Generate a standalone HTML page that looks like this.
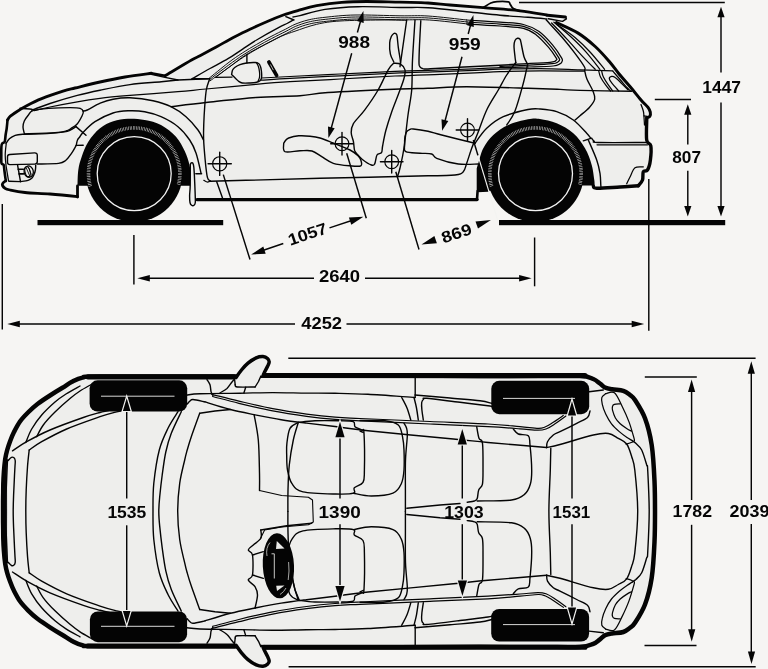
<!DOCTYPE html>
<html><head><meta charset="utf-8"><title>Dimensions</title>
<style>
html,body{margin:0;padding:0;background:#f6f5f3;}
body{width:768px;height:669px;overflow:hidden;}
svg{display:block;}
text{font-family:"Liberation Sans",sans-serif;font-weight:bold;fill:#040404;}
</style></head><body>
<svg width="768" height="669" viewBox="0 0 768 669">
<rect x="0" y="0" width="768" height="669" fill="#f6f5f3"/>
<g id="side">
<path d="M7.5,120.0 L10.0,116.5 L16.7,111.7 L26.7,105.8 L41.7,98.7 L63.0,91.2 L75.0,88.0 L100.0,82.0 L125.0,77.0 L151.3,73.3 L151.3,73.3 L165.0,75.8 L165.5,75.5 L192.0,59.8 L200.0,55.8 L216.7,46.7 L233.3,37.5 L250.0,29.2 L266.7,21.7 L283.3,15.0 L300.0,9.9 L316.7,5.7 L341.7,2.4 L366.7,1.5 L400.0,2.2 L428.0,3.0 L450.0,5.0 L483.3,7.7 L520.0,10.8 L546.7,15.0 L547.5,15.0 L565.0,16.9 L566.0,19.0 L560.0,22.5 L555.8,23.3 L578.1,33.1 L595.2,46.5 L609.3,61.5 L618.7,73.5 L630.4,87.0 L641.0,100.0 L648.0,107.4 L650.3,112.1 L649.8,116.4 L646.8,117.6 L646.7,140.0 L650.8,145.8 L650.4,160.0 L647.5,170.0 L643.3,171.7 L642.5,180.0 L638.3,185.8 L620.0,187.0 L596.7,188.3 L593.3,185.8 L560.0,190.0 L487.8,190.2 L477.8,190.8 L477.0,200.0 L197.0,200.0 L196.0,186.0 L80.0,186.0 L77.5,190.0 L77.5,196.7 L50.0,194.0 L25.0,192.5 L10.0,190.0 L5.0,188.3 L2.5,185.5 L2.8,183.3 L5.8,180.8 L4.6,172.0 L3.7,165.0 L1.5,163.3 L1.3,155.0 L1.7,144.5 L4.7,141.7 L5.6,135.0 L6.7,128.3 L7.5,120.0Z" fill="#eeeeec" stroke="none"/>
<path d="M77.5,185.8 C77.6,183.2 77.6,174.8 78.3,170.0 C79.0,165.2 80.0,161.4 81.7,156.7 C83.4,152.0 85.2,146.4 88.3,141.7 C91.3,137.0 95.8,131.7 100.0,128.3 C104.2,124.9 108.6,122.9 113.3,121.3 C118.0,119.7 122.8,119.0 128.0,118.8 C133.2,118.6 139.2,119.0 144.7,120.0 C150.2,121.0 155.8,122.2 161.0,125.0 C166.2,127.8 172.1,132.4 176.0,136.7 C179.9,141.0 182.4,146.3 184.7,151.0 C186.9,155.7 188.4,160.5 189.5,165.0 C190.6,169.5 190.7,174.5 191.0,178.0 C191.3,181.5 191.2,184.5 191.3,185.8 Z" fill="#040404"/>
<path d="M476.7,168.5 C477.0,167.6 477.2,166.7 478.3,163.3 C479.4,159.9 480.8,153.0 483.3,148.3 C485.8,143.6 489.1,138.9 493.3,135.0 C497.5,131.1 502.5,127.6 508.3,125.0 C514.1,122.4 522.7,120.3 528.0,119.3 C533.3,118.3 535.2,118.3 540.0,119.0 C544.8,119.7 551.2,120.9 556.7,123.3 C562.2,125.7 568.6,129.1 573.3,133.3 C578.0,137.5 581.9,143.0 585.0,148.3 C588.1,153.6 590.2,159.7 591.7,165.0 C593.2,170.3 593.8,176.6 594.3,180.0 C594.8,183.4 594.5,184.6 594.5,185.5 L560.0,185.5 L500.0,190.7 L476.7,190.7 Z" fill="#040404"/>
<path d="M190.3,164.5 C190.5,164.2 190.8,163.1 191.2,162.9 C191.6,162.7 192.4,162.5 192.8,163.2 C193.2,163.9 193.5,164.2 193.8,167.0 C194.1,169.8 194.4,175.3 194.6,180.0 C194.8,184.7 195.1,191.2 195.2,195.0 C195.3,198.8 195.5,200.8 195.3,202.5 C195.1,204.2 194.6,204.8 194.0,205.3 C193.4,205.8 192.3,205.8 191.6,205.3 C190.9,204.8 190.3,204.1 190.0,202.5 C189.7,200.9 189.6,198.8 189.6,196.0 C189.6,193.2 190.1,191.1 190.2,185.8 C190.3,180.6 190.3,168.1 190.3,164.5" fill="#eeeeec" stroke="#040404" stroke-width="1.4" stroke-linecap="round" stroke-linejoin="round" />
<circle cx="134.2" cy="173.6" r="48.3" fill="#040404"/>
<path d="M90.27,186.20 A45.7,45.7 0 1 1 178.54,184.66" fill="none" stroke="#d8d8d8" stroke-width="3.6" stroke-dasharray="0.55 1.05"/>
<circle cx="134.2" cy="173.6" r="37" fill="none" stroke="#f2f2f2" stroke-width="1.3"/>
<circle cx="535.5" cy="173.6" r="48.3" fill="#040404"/>
<path d="M491.57,186.20 A45.7,45.7 0 1 1 579.84,184.66" fill="none" stroke="#d8d8d8" stroke-width="3.6" stroke-dasharray="0.55 1.05"/>
<circle cx="535.5" cy="173.6" r="37" fill="none" stroke="#f2f2f2" stroke-width="1.3"/>
<rect x="37.5" y="220" width="185.7" height="5.2" fill="#040404"/>
<rect x="499" y="220" width="226.2" height="5.2" fill="#040404"/>
<path d="M7.5,120.0 C7.9,119.4 8.5,117.9 10.0,116.5 C11.5,115.1 13.9,113.5 16.7,111.7 C19.5,109.9 22.5,108.0 26.7,105.8 C30.9,103.6 35.7,101.1 41.7,98.7 C47.8,96.3 57.5,93.0 63.0,91.2 C68.5,89.4 68.8,89.5 75.0,88.0 C81.2,86.5 91.7,83.8 100.0,82.0 C108.3,80.2 116.5,78.5 125.0,77.0 C133.6,75.5 146.9,73.9 151.3,73.3" fill="none" stroke="#040404" stroke-width="2.9" stroke-linecap="round" stroke-linejoin="round" />
<path d="M151.3,73.3 L165.0,75.8" fill="none" stroke="#040404" stroke-width="2.6" stroke-linecap="round" stroke-linejoin="round" />
<path d="M165.5,75.5 C169.9,72.9 186.2,63.1 192.0,59.8 C197.8,56.5 195.9,58.0 200.0,55.8 C204.1,53.6 211.1,49.8 216.7,46.7 C222.2,43.7 227.8,40.4 233.3,37.5 C238.9,34.6 244.4,31.8 250.0,29.2 C255.6,26.6 261.1,24.1 266.7,21.7 C272.2,19.3 277.8,17.0 283.3,15.0 C288.9,13.0 294.4,11.5 300.0,9.9 C305.6,8.3 309.8,7.0 316.7,5.7 C323.6,4.5 333.4,3.1 341.7,2.4 C350.0,1.7 357.0,1.5 366.7,1.5 C376.4,1.5 389.8,2.0 400.0,2.2 C410.2,2.5 419.7,2.5 428.0,3.0 C436.3,3.5 440.8,4.2 450.0,5.0 C459.2,5.8 471.6,6.7 483.3,7.7 C495.0,8.7 509.4,9.6 520.0,10.8 C530.6,12.0 542.2,14.3 546.7,15.0" fill="none" stroke="#040404" stroke-width="2.8" stroke-linecap="round" stroke-linejoin="round" />
<path d="M547.5,15.3 L565.4,16.9" fill="none" stroke="#040404" stroke-width="3.0" stroke-linecap="round" stroke-linejoin="round" />
<path d="M565.4,16.9 L566.4,18.8 L562.5,21.4 L548.4,18.8" fill="none" stroke="#040404" stroke-width="1.4" stroke-linecap="round" stroke-linejoin="round" />
<path d="M556.5,22.6 C560.1,24.4 571.6,29.1 578.1,33.1 C584.6,37.1 590.0,41.8 595.2,46.5 C600.4,51.2 605.4,57.0 609.3,61.5 C613.2,66.0 615.2,69.2 618.7,73.5 C622.2,77.8 626.7,82.6 630.4,87.0 C634.1,91.4 638.1,96.6 641.0,100.0 C643.9,103.4 646.5,105.4 648.0,107.4 C649.5,109.4 650.0,110.6 650.3,112.1 C650.6,113.6 650.4,115.5 649.8,116.4 C649.2,117.3 647.3,117.4 646.8,117.6" fill="none" stroke="#040404" stroke-width="3.0" stroke-linecap="round" stroke-linejoin="round" />
<path d="M646.8,117.6 C646.8,121.3 646.0,135.3 646.7,140.0 C647.4,144.7 650.2,142.5 650.8,145.8 C651.4,149.1 650.9,156.0 650.4,160.0 C649.9,164.0 648.7,168.1 647.5,170.0 C646.3,171.9 644.1,170.0 643.3,171.7 C642.5,173.4 643.3,177.7 642.5,180.0 C641.7,182.3 639.0,184.8 638.3,185.8" fill="none" stroke="#040404" stroke-width="3.4" stroke-linecap="round" stroke-linejoin="round" />
<path d="M638.3,185.8 C635.2,186.0 626.9,186.6 620.0,187.0 C613.1,187.4 601.2,188.5 596.7,188.3 C592.2,188.1 593.9,186.2 593.3,185.8" fill="none" stroke="#040404" stroke-width="3.4" stroke-linecap="round" stroke-linejoin="round" />
<path d="M77.5,196.7 C72.9,196.2 58.8,194.7 50.0,194.0 C41.2,193.3 31.7,193.2 25.0,192.5 C18.3,191.8 13.3,190.7 10.0,190.0 C6.7,189.3 6.2,189.1 5.0,188.3 C3.8,187.6 2.9,186.3 2.5,185.5 C2.1,184.7 2.2,184.1 2.8,183.3 C3.3,182.5 5.3,181.2 5.8,180.8" fill="none" stroke="#040404" stroke-width="2.8" stroke-linecap="round" stroke-linejoin="round" />
<path d="M5.8,180.8 C5.6,179.3 4.9,174.6 4.6,172.0 C4.2,169.4 4.2,166.4 3.7,165.0 C3.2,163.6 1.9,165.0 1.5,163.3 C1.1,161.6 1.3,158.1 1.3,155.0 C1.3,151.9 1.1,146.7 1.7,144.5 C2.3,142.3 4.1,143.3 4.7,141.7 C5.3,140.1 5.3,137.2 5.6,135.0 C5.9,132.8 6.4,130.8 6.7,128.3 C7.0,125.8 7.4,121.4 7.5,120.0" fill="none" stroke="#040404" stroke-width="2.6" stroke-linecap="round" stroke-linejoin="round" />
<path d="M77.5,197.0 L77.5,186.0" fill="none" stroke="#040404" stroke-width="2.8" stroke-linecap="round" stroke-linejoin="round" />
<path d="M197.0,199.6 L477.0,199.6" fill="none" stroke="#040404" stroke-width="3.3" stroke-linecap="round" stroke-linejoin="round" />
<path d="M477.0,199.6 L477.6,191.0 L488.0,190.4" fill="none" stroke="#040404" stroke-width="2.6" stroke-linecap="round" stroke-linejoin="round" />
<path d="M483.3,7.5 C484.6,6.8 488.5,4.0 490.8,3.0 C493.1,2.0 494.1,1.8 497.0,1.6 C499.9,1.4 506.1,1.4 508.3,1.8 C510.5,2.2 509.2,2.9 510.0,4.0 C510.8,5.1 511.6,7.5 513.3,8.6 C515.0,9.7 518.9,10.4 520.0,10.8" fill="none" stroke="#040404" stroke-width="1.8" stroke-linecap="round" stroke-linejoin="round" />
<path d="M20.0,108.3 C21.9,108.5 29.4,109.0 31.5,109.2 C33.6,109.4 29.8,110.7 32.9,109.7 C36.0,108.8 42.6,105.9 50.0,103.5 C57.4,101.1 69.0,97.6 77.3,95.4 C85.6,93.2 91.2,92.0 100.0,90.2 C108.8,88.4 119.8,86.0 130.0,84.6 C140.2,83.2 153.3,82.5 161.3,81.7 C169.3,80.9 175.2,80.3 178.0,80.0" fill="none" stroke="#040404" stroke-width="1.4" stroke-linecap="round" stroke-linejoin="round" />
<path d="M151.3,74.3 L165.0,77.4 L178.0,80.0 L208.0,78.7" fill="none" stroke="#040404" stroke-width="1.4" stroke-linecap="round" stroke-linejoin="round" />
<path d="M34.3,110.7 C36.9,110.1 42.8,108.5 50.0,107.0 C57.2,105.5 69.0,103.2 77.3,101.8 C85.6,100.3 91.2,99.4 100.0,98.3 C108.8,97.2 117.0,96.5 130.0,95.4 C143.0,94.3 165.3,92.8 178.0,91.7 C190.7,90.6 193.0,90.2 206.0,89.0 C219.0,87.8 242.0,85.5 256.0,84.3 C270.0,83.1 276.0,82.6 290.0,81.7 C304.0,80.8 322.5,80.0 340.0,79.0 C357.5,78.0 378.3,76.8 395.0,76.0 C411.7,75.2 426.7,74.8 440.0,74.3 C453.3,73.8 465.0,73.4 475.0,72.9 C485.0,72.5 489.2,71.9 500.0,71.6 C510.8,71.2 525.9,70.9 540.0,70.8 C554.1,70.7 577.0,71.1 584.4,71.2" fill="none" stroke="#040404" stroke-width="1.25" stroke-linecap="round" stroke-linejoin="round" />
<path d="M171.0,106.7 C176.8,106.0 191.8,104.0 206.0,102.5 C220.2,101.0 240.3,98.6 256.0,97.5 C271.7,96.4 288.0,96.6 300.0,95.8 C312.0,95.0 311.3,93.6 328.0,92.5 C344.7,91.4 383.3,89.7 400.0,89.0 C416.7,88.3 416.9,88.7 428.0,88.3 C439.1,87.9 450.0,86.7 466.7,86.7 C483.4,86.7 512.5,87.8 528.0,88.3 C543.5,88.8 551.3,89.1 560.0,89.4 C568.7,89.8 568.1,90.1 580.0,90.4 C591.9,90.7 623.0,91.2 631.6,91.3" fill="none" stroke="#040404" stroke-width="1.4" stroke-linecap="round" stroke-linejoin="round" />
<path d="M83.0,111.0 C83.7,110.8 84.4,111.3 87.3,110.0 C90.2,108.7 95.9,105.0 100.2,103.2 C104.5,101.4 108.1,100.1 113.1,99.2 C118.1,98.3 123.3,97.5 130.0,97.8 C136.7,98.1 146.2,99.3 153.0,100.8 C159.8,102.3 165.5,104.0 171.0,106.7 C176.5,109.4 181.5,112.8 186.0,116.7 C190.5,120.6 195.1,126.1 198.0,130.0 C200.9,133.9 202.6,138.3 203.5,140.0" fill="none" stroke="#040404" stroke-width="1.4" stroke-linecap="round" stroke-linejoin="round" />
<path d="M76.2,145.4 C76.4,144.5 76.9,141.4 77.5,140.0 C78.1,138.6 78.8,138.2 79.7,137.0 C80.6,135.8 80.5,135.1 83.0,132.5 C85.5,129.9 90.0,125.0 95.0,121.7 C100.0,118.5 107.5,114.8 113.0,113.0 C118.5,111.2 122.7,111.0 128.0,110.8 C133.3,110.6 139.2,110.7 144.7,111.7 C150.2,112.7 155.4,114.2 161.0,116.7 C166.6,119.2 173.2,122.8 178.0,126.7 C182.8,130.6 186.7,135.6 189.7,140.0 C192.7,144.4 194.1,147.5 196.0,153.0 C197.9,158.5 200.2,169.7 201.0,173.0" fill="none" stroke="#040404" stroke-width="1.4" stroke-linecap="round" stroke-linejoin="round" />
<path d="M76.2,145.4 L83.2,145.2" fill="none" stroke="#040404" stroke-width="1.4" stroke-linecap="round" stroke-linejoin="round" />
<path d="M195.8,173.8 L201.6,173.8" fill="none" stroke="#040404" stroke-width="1.4" stroke-linecap="round" stroke-linejoin="round" />
<path d="M24.4,133.9 C24.2,132.8 23.0,129.2 23.0,127.0 C23.0,124.8 23.4,123.0 24.3,121.0 C25.2,119.0 27.2,116.4 28.6,114.7 C30.0,113.0 29.5,111.8 32.9,110.7 C36.2,109.7 42.5,108.9 48.7,108.4 C54.9,107.9 64.8,107.6 70.1,107.6 C75.3,107.6 78.0,107.6 80.2,108.3 C82.4,109.0 83.0,110.2 83.3,111.5 C83.6,112.8 83.0,114.0 82.0,116.0 C81.0,118.0 79.2,121.6 77.4,123.7 C75.6,125.8 72.9,127.3 71.0,128.5 C69.1,129.7 68.7,130.3 66.0,131.0 C63.3,131.7 61.9,132.1 55.0,132.6 C48.1,133.1 29.5,133.7 24.4,133.9" fill="none" stroke="#040404" stroke-width="1.4" stroke-linecap="round" stroke-linejoin="round" />
<path d="M76.0,126.6 L86.0,135.2" fill="none" stroke="#040404" stroke-width="1.4" stroke-linecap="round" stroke-linejoin="round" />
<path d="M5.9,143.5 C6.5,142.7 7.9,140.2 9.4,138.8 C10.9,137.4 12.9,136.1 15.2,135.3 C17.5,134.5 18.1,134.5 23.4,134.2 C28.7,133.9 40.0,134.0 46.9,133.6 C53.8,133.2 60.6,132.5 64.5,131.9 C68.4,131.3 68.4,130.9 70.3,130.0 C72.2,129.1 75.0,127.2 76.0,126.6" fill="none" stroke="#040404" stroke-width="1.4" stroke-linecap="round" stroke-linejoin="round" />
<path d="M76.2,145.4 C75.4,146.7 73.3,150.9 71.5,153.4 C69.7,155.9 67.8,158.8 65.6,160.5 C63.4,162.2 63.3,162.8 58.6,163.4 C53.9,164.0 40.8,163.9 37.3,164.0" fill="none" stroke="#040404" stroke-width="1.4" stroke-linecap="round" stroke-linejoin="round" />
<path d="M9.8,154.5 L34.6,152.9 Q37.3,152.8 37.3,155.4 L37.3,161.6 Q37.3,164 34.8,164.1 L9.8,164.6 Q7.5,164.6 7.5,162.3 L7.5,156.8 Q7.5,154.6 9.8,154.5 Z" fill="none" stroke="#040404" stroke-width="1.4" stroke-linecap="round" stroke-linejoin="round" />
<path d="M17.6,165.2 C17.8,166.5 18.5,170.3 19.0,173.0 C19.5,175.7 20.2,180.2 20.5,181.6" fill="none" stroke="#040404" stroke-width="1.4" stroke-linecap="round" stroke-linejoin="round" />
<path d="M20.5,181.6 C21.8,181.4 26.2,181.0 28.1,180.4 C30.0,179.8 31.0,179.0 32.0,178.0 C33.0,177.0 33.4,175.8 34.0,174.5 C34.6,173.2 35.1,171.6 35.4,170.0 C35.7,168.4 35.7,166.0 35.7,165.2" fill="none" stroke="#040404" stroke-width="1.4" stroke-linecap="round" stroke-linejoin="round" />
<path d="M8.8,181.2 L20.5,181.6" fill="none" stroke="#040404" stroke-width="1.4" stroke-linecap="round" stroke-linejoin="round" />
<ellipse cx="28.7" cy="171.6" rx="4.6" ry="5.7" fill="none" stroke="#040404" stroke-width="1.3" transform="rotate(-12 28.7 171.6)"/>
<ellipse cx="27.6" cy="171.7" rx="2.5" ry="5" fill="none" stroke="#040404" stroke-width="1.0" transform="rotate(-14 27.6 171.7)"/>
<path d="M26.4,168.2 L29.6,175.6" fill="none" stroke="#040404" stroke-width="0.9" stroke-linecap="round" stroke-linejoin="round" />
<path d="M28.4,167.2 L31.3,174.3" fill="none" stroke="#040404" stroke-width="0.9" stroke-linecap="round" stroke-linejoin="round" />
<path d="M18.2,169.3 L23.4,169.3" fill="none" stroke="#040404" stroke-width="1.6" stroke-linecap="round" stroke-linejoin="round" />
<path d="M19.0,173.9 L23.6,173.9" fill="none" stroke="#040404" stroke-width="1.6" stroke-linecap="round" stroke-linejoin="round" />
<path d="M6.2,144.0 C6.0,145.8 5.2,151.5 5.2,155.0 C5.2,158.5 5.5,160.8 6.0,165.0 C6.5,169.2 8.1,177.9 8.5,180.5" fill="none" stroke="#040404" stroke-width="1.25" stroke-linecap="round" stroke-linejoin="round" />
<path d="M192.2,78.7 C195.2,77.0 204.0,71.8 210.0,68.5 C216.0,65.2 222.6,61.9 228.0,58.7 C233.4,55.5 237.5,52.4 242.3,49.3 C247.1,46.2 250.6,43.6 256.6,40.0 C262.6,36.4 273.0,30.6 278.1,27.9 C283.2,25.1 284.5,24.8 287.0,23.5 C289.5,22.2 292.0,20.8 293.0,20.2" fill="none" stroke="#040404" stroke-width="1.4" stroke-linecap="round" stroke-linejoin="round" />
<path d="M285.8,16.7 L294.0,20.0" fill="none" stroke="#040404" stroke-width="1.4" stroke-linecap="round" stroke-linejoin="round" />
<path d="M293.0,17.0 C294.2,16.8 294.7,16.9 300.0,15.6 C305.3,14.3 315.3,10.9 325.0,9.4 C334.7,7.9 345.5,7.0 358.0,6.7 C370.5,6.4 388.3,7.3 400.0,7.5 C411.7,7.7 416.9,7.0 428.0,7.7 C439.1,8.4 454.7,10.4 466.7,11.7 C478.7,12.9 489.8,14.3 500.0,15.2 C510.2,16.1 520.2,16.7 528.0,17.3 C535.8,17.9 543.8,18.7 546.9,19.0" fill="none" stroke="#040404" stroke-width="1.4" stroke-linecap="round" stroke-linejoin="round" />
<path d="M208.6,78.7 C211.8,76.1 222.4,67.3 228.0,63.0 C233.6,58.7 237.5,56.1 242.3,53.0 C247.1,49.9 251.8,47.1 256.6,44.4 C261.4,41.6 266.2,39.0 271.0,36.5 C275.8,34.0 281.3,31.3 285.3,29.3 C289.3,27.3 291.2,25.9 295.0,24.3 C298.8,22.8 303.0,21.2 308.0,20.0 C313.0,18.8 317.2,18.1 325.0,17.3 C332.8,16.5 342.5,15.2 355.0,15.0 C367.5,14.8 387.8,15.6 400.0,15.8 C412.2,16.0 416.9,15.3 428.0,16.0 C439.1,16.7 460.2,19.3 466.7,20.0" fill="none" stroke="#040404" stroke-width="0.95" stroke-linecap="round" stroke-linejoin="round" />
<path d="M209.3,79.8 C212.5,77.3 223.1,69.1 228.7,65.0 C234.3,60.9 238.2,58.1 243.0,55.0 C247.8,51.9 252.5,49.1 257.3,46.4 C262.1,43.6 266.9,41.0 271.7,38.5 C276.5,36.0 282.0,33.3 286.0,31.3 C290.0,29.3 291.9,27.9 295.7,26.3 C299.5,24.8 303.7,23.2 308.7,22.0 C313.7,20.8 317.9,20.1 325.7,19.3 C333.5,18.5 343.2,17.2 355.7,17.0 C368.2,16.8 388.5,17.6 400.7,17.8 C412.9,18.0 417.6,17.3 428.7,18.0 C439.8,18.7 460.9,21.3 467.4,22.0" fill="none" stroke="#040404" stroke-width="0.95" stroke-linecap="round" stroke-linejoin="round" />
<path d="M210.0,80.9 C213.2,78.6 223.8,71.0 229.4,67.0 C235.0,63.0 238.9,60.1 243.7,57.0 C248.5,53.9 253.2,51.1 258.0,48.4 C262.8,45.6 267.6,43.0 272.4,40.5 C277.2,38.0 282.7,35.3 286.7,33.3 C290.7,31.3 292.6,29.9 296.4,28.3 C300.2,26.8 304.4,25.2 309.4,24.0 C314.4,22.8 318.6,22.1 326.4,21.3 C334.2,20.5 343.9,19.2 356.4,19.0 C368.9,18.8 389.2,19.6 401.4,19.8 C413.6,20.0 418.3,19.3 429.4,20.0 C440.5,20.7 461.6,23.3 468.1,24.0" fill="none" stroke="#040404" stroke-width="0.95" stroke-linecap="round" stroke-linejoin="round" />
<path d="M215.8,77.3 C218.2,75.5 224.9,70.3 230.0,66.5 C235.1,62.7 239.8,58.6 246.6,54.4 C253.4,50.2 264.9,44.6 271.0,41.5 C277.1,38.4 279.0,37.2 283.0,35.5 C287.0,33.8 289.4,33.1 295.0,31.2 C300.6,29.3 309.2,26.0 316.7,24.3 C324.2,22.6 329.4,21.7 340.0,21.0 C350.6,20.3 369.0,20.1 380.0,20.0 C391.0,19.9 401.7,20.2 406.0,20.3" fill="none" stroke="#040404" stroke-width="0.95" stroke-linecap="round" stroke-linejoin="round" />
<path d="M192.0,78.7 L209.7,78.7" fill="none" stroke="#040404" stroke-width="1.4" stroke-linecap="round" stroke-linejoin="round" />
<path d="M209.7,78.7 C209.1,80.6 207.1,85.3 206.3,90.0 C205.5,94.7 205.1,101.2 204.7,106.7 C204.3,112.2 204.0,118.0 203.8,123.3 C203.6,128.6 203.4,132.5 203.6,138.7 C203.8,144.8 204.6,153.8 205.2,160.2 C205.8,166.6 206.6,173.9 207.4,177.4 C208.2,180.9 209.8,180.4 210.3,181.0" fill="none" stroke="#040404" stroke-width="1.4" stroke-linecap="round" stroke-linejoin="round" />
<path d="M210.3,181.2 C216.2,181.0 227.7,180.8 246.0,180.3 C264.3,179.8 289.7,179.1 320.0,178.3 C350.3,177.6 405.5,176.4 428.0,175.8 C450.5,175.2 449.1,175.7 455.0,175.0 C460.9,174.3 461.4,173.6 463.3,171.7 C465.2,169.8 465.3,167.2 466.7,163.3 C468.1,159.4 469.8,153.6 471.7,148.3 C473.6,143.0 475.8,138.1 478.3,131.7 C480.8,125.3 483.4,117.0 486.7,110.0 C490.0,103.0 495.0,95.8 498.3,90.0 C501.6,84.2 503.8,79.6 506.7,75.0 C509.6,70.4 514.3,64.6 515.8,62.5" fill="none" stroke="#040404" stroke-width="1.4" stroke-linecap="round" stroke-linejoin="round" />
<path d="M203.8,180.3 C204.3,180.6 205.9,181.8 207.0,182.0 C208.1,182.2 209.8,181.3 210.3,181.2" fill="none" stroke="#040404" stroke-width="1.25" stroke-linecap="round" stroke-linejoin="round" />
<path d="M215.8,77.4 L232.0,77.1" fill="none" stroke="#040404" stroke-width="1.4" stroke-linecap="round" stroke-linejoin="round" />
<path d="M261.6,78.0 C266.3,77.8 276.9,77.2 290.0,76.5 C303.1,75.8 322.5,74.8 340.0,74.0 C357.5,73.2 378.3,72.1 395.0,71.4 C411.7,70.7 426.7,70.4 440.0,70.0 C453.3,69.6 465.0,69.2 475.0,68.8 C485.0,68.3 491.2,67.9 500.0,67.6 C508.8,67.3 523.3,67.1 528.0,67.0" fill="none" stroke="#040404" stroke-width="1.25" stroke-linecap="round" stroke-linejoin="round" />
<path d="M261.6,80.2 C266.3,79.9 276.9,79.0 290.0,78.3 C303.1,77.6 322.5,76.7 340.0,75.8 C357.5,74.9 378.3,73.8 395.0,73.1 C411.7,72.4 426.7,72.1 440.0,71.6 C453.3,71.1 465.0,70.7 475.0,70.3 C485.0,69.9 489.2,69.5 500.0,69.2 C510.8,68.9 526.7,68.5 540.0,68.6 C553.3,68.7 567.9,69.5 580.0,69.9 C592.1,70.3 607.3,70.7 612.8,70.9" fill="none" stroke="#040404" stroke-width="1.25" stroke-linecap="round" stroke-linejoin="round" />
<path d="M231.6,74.4 C231.8,73.7 232.0,71.2 232.6,70.0 C233.2,68.8 233.9,68.2 235.1,67.3 C236.3,66.4 238.1,65.3 240.0,64.6 C241.9,63.9 244.1,63.4 246.6,63.0 C249.1,62.6 253.2,62.4 255.2,62.5 C257.2,62.6 257.8,63.0 258.6,63.5 C259.4,64.0 259.7,64.5 260.2,65.8 C260.7,67.0 261.2,69.1 261.4,71.0 C261.6,72.9 261.8,75.7 261.6,77.3 C261.4,78.9 260.8,79.9 260.0,80.7 C259.2,81.5 258.3,81.9 256.6,82.3 C254.9,82.7 252.4,82.9 250.0,83.0 C247.6,83.1 244.2,83.3 242.3,83.0 C240.4,82.7 239.6,81.9 238.5,81.2 C237.4,80.5 237.1,79.8 235.9,78.7 C234.8,77.6 232.3,75.1 231.6,74.4" fill="#eeeeec" stroke="#040404" stroke-width="1.4" stroke-linecap="round" stroke-linejoin="round" />
<path d="M256.6,63.0 C256.9,63.6 257.9,65.0 258.4,66.5 C258.9,68.0 259.3,70.2 259.5,72.0 C259.7,73.8 259.8,75.8 259.5,77.3 C259.2,78.8 258.2,80.6 258.0,81.3" fill="none" stroke="#040404" stroke-width="1.25" stroke-linecap="round" stroke-linejoin="round" />
<path d="M246.9,54.4 L246.9,63.0" fill="none" stroke="#040404" stroke-width="1.4" stroke-linecap="round" stroke-linejoin="round" />
<path d="M268.9,62 L276.6,75.4" fill="none" stroke="#040404" stroke-width="3.7" stroke-linecap="round"/>
<path d="M270.6,64.8 L273.2,69.8" fill="none" stroke="#eeeeec" stroke-width="0.7" stroke-linecap="round"/>
<path d="M406.7,20.0 L400.0,66.7" fill="none" stroke="#040404" stroke-width="1.4" stroke-linecap="round" stroke-linejoin="round" />
<path d="M415.0,20.0 C414.6,26.7 413.1,48.3 412.5,60.0 C411.9,71.7 412.4,80.8 411.7,90.0 C410.9,99.2 409.3,105.3 408.0,115.0 C406.7,124.7 405.3,139.2 404.0,148.0 C402.7,156.8 401.1,163.2 400.0,168.0 C398.9,172.8 397.9,175.2 397.5,176.7" fill="none" stroke="#040404" stroke-width="1.4" stroke-linecap="round" stroke-linejoin="round" />
<path d="M420.8,20.8 C420.6,24.8 419.8,38.1 419.5,45.0 C419.2,51.9 419.0,58.6 419.0,62.0 C419.0,65.4 419.1,64.6 419.3,65.5 C419.6,66.4 419.9,67.0 420.5,67.5 C421.1,68.0 422.0,68.3 423.0,68.6 C424.0,68.8 423.5,69.1 426.3,69.0 C429.1,68.9 431.9,68.6 440.0,68.2 C448.1,67.8 465.0,67.0 475.0,66.5 C485.0,66.0 491.2,65.7 500.0,65.2 C508.8,64.7 523.3,63.9 528.0,63.6" fill="none" stroke="#040404" stroke-width="1.4" stroke-linecap="round" stroke-linejoin="round" />
<path d="M466.7,20.0 C472.2,20.4 490.6,21.4 500.0,22.2 C509.4,22.9 516.9,22.9 523.4,24.5 C529.9,26.1 534.1,28.1 539.1,31.6 C544.1,35.1 549.3,41.2 553.1,45.6 C556.9,50.0 560.2,55.5 561.7,58.1 C563.2,60.8 562.2,60.6 562.0,61.5 C561.8,62.4 561.7,62.9 560.2,63.6 C558.7,64.3 558.5,65.4 553.1,66.0 C547.7,66.6 532.2,66.8 528.0,67.0" fill="none" stroke="#040404" stroke-width="1.25" stroke-linecap="round" stroke-linejoin="round" />
<path d="M466.7,22.0 C472.2,22.4 490.6,23.4 500.0,24.1 C509.4,24.8 517.1,24.9 523.4,26.4 C529.6,27.9 532.9,29.8 537.5,33.1 C542.1,36.4 547.2,42.2 550.8,46.4 C554.4,50.6 557.6,55.8 559.0,58.1 C560.4,60.5 559.5,59.9 559.3,60.5 C559.1,61.1 559.0,61.5 557.8,62.0 C556.6,62.5 557.3,63.1 552.3,63.6 C547.3,64.1 536.7,64.7 528.0,65.2 C519.3,65.7 504.7,66.2 500.0,66.4" fill="none" stroke="#040404" stroke-width="1.25" stroke-linecap="round" stroke-linejoin="round" />
<path d="M466.7,24.0 C472.2,24.3 490.6,25.3 500.0,26.0 C509.4,26.7 517.4,26.9 523.4,28.4 C529.4,29.8 531.8,31.6 536.0,34.7 C540.2,37.8 545.0,43.3 548.4,47.2 C551.8,51.1 555.0,56.0 556.3,58.1 C557.6,60.2 556.6,59.5 556.3,60.0 C556.0,60.5 555.8,60.9 554.7,61.3 C553.7,61.7 554.5,61.9 550.0,62.3 C545.5,62.7 531.7,63.4 528.0,63.6" fill="none" stroke="#040404" stroke-width="1.25" stroke-linecap="round" stroke-linejoin="round" />
<path d="M393.8,62.0 C393.2,60.7 391.1,57.3 390.4,54.1 C389.7,50.9 389.5,45.8 389.7,42.9 C389.9,40.0 390.6,38.1 391.3,36.5 C392.0,34.9 393.0,34.0 393.8,33.5 C394.6,33.0 395.4,33.3 396.0,33.8 C396.6,34.2 396.7,33.9 397.1,36.2 C397.5,38.5 397.8,43.7 398.3,47.4 C398.8,51.1 399.7,56.0 400.1,58.6 C400.5,61.2 400.4,62.4 400.5,63.1" fill="none" stroke="#040404" stroke-width="1.4" stroke-linecap="round" stroke-linejoin="round" />
<path d="M393.8,63.1 C392.9,64.2 390.8,65.3 388.2,69.8 C385.6,74.3 382.0,83.3 378.1,90.0 C374.2,96.7 368.7,104.6 364.6,110.2 C360.5,115.8 355.6,119.9 353.4,123.6 C351.2,127.3 351.2,129.6 351.2,132.6 C351.2,135.6 352.8,138.5 353.4,141.5 C354.0,144.5 353.9,148.2 354.6,150.5 C355.4,152.8 356.6,153.5 357.9,155.0 C359.2,156.5 360.1,157.8 362.4,159.5 C364.6,161.2 369.3,164.3 371.4,165.0 C373.4,165.7 373.8,165.6 374.7,163.9 C375.6,162.2 375.9,156.9 377.0,155.0 C378.1,153.1 380.6,154.2 381.5,152.7 C382.4,151.2 381.9,149.7 382.6,146.0 C383.3,142.3 384.4,135.9 385.9,130.3 C387.4,124.7 389.4,118.4 391.5,112.4 C393.6,106.4 396.2,100.1 398.3,94.5 C400.4,88.9 402.8,82.9 403.9,78.8 C405.0,74.7 405.6,72.2 405.0,69.8 C404.4,67.4 402.4,65.3 400.5,64.2 C398.6,63.1 394.9,63.3 393.8,63.1" fill="none" stroke="#040404" stroke-width="1.4" stroke-linecap="round" stroke-linejoin="round" />
<path d="M283.7,143.3 C284.0,142.8 284.7,141.4 285.5,140.5 C286.3,139.6 286.5,138.8 288.7,138.0 C290.9,137.2 295.1,136.1 298.7,135.8 C302.2,135.5 306.4,135.8 310.0,136.2 C313.6,136.6 316.2,136.9 320.0,138.0 C323.8,139.1 328.0,141.0 333.0,143.0 C338.0,145.0 345.8,147.9 350.0,150.0 C354.2,152.1 356.2,154.1 358.0,155.8 C359.8,157.5 360.3,158.3 360.8,160.0 C361.3,161.7 362.6,164.8 360.8,165.8 C359.0,166.8 354.6,166.2 350.0,165.8 C345.4,165.4 338.0,164.8 333.3,163.3 C328.6,161.8 325.2,158.8 321.7,156.7 C318.1,154.6 315.6,152.0 312.0,151.0 C308.4,150.0 304.5,150.7 300.0,150.8 C295.5,150.9 287.7,152.9 285.0,151.7 C282.3,150.4 283.9,144.7 283.7,143.3" fill="none" stroke="#040404" stroke-width="1.4" stroke-linecap="round" stroke-linejoin="round" />
<path d="M478.3,164.0 C475.0,164.0 465.2,164.9 458.3,164.0 C451.4,163.1 441.1,160.0 436.7,158.3 C432.3,156.6 434.5,154.8 431.7,154.0 C428.9,153.2 424.3,153.6 420.0,153.2 C415.7,152.8 408.4,153.1 405.8,151.7 C403.2,150.3 404.7,147.5 404.6,145.0 C404.5,142.5 404.6,138.9 405.0,136.7 C405.4,134.5 405.9,132.9 406.7,131.7 C407.5,130.5 408.9,129.8 410.0,129.3 C411.1,128.9 410.3,128.7 413.3,129.0 C416.3,129.3 423.3,130.3 428.0,131.3 C432.7,132.3 433.9,133.0 441.7,135.0 C449.5,137.0 469.4,141.9 475.0,143.3" fill="none" stroke="#040404" stroke-width="1.4" stroke-linecap="round" stroke-linejoin="round" />
<path d="M515.8,62.5 C515.7,61.5 515.3,59.5 515.0,56.7 C514.7,54.0 514.0,48.7 514.0,46.0 C514.0,43.3 514.4,41.8 515.0,40.5 C515.6,39.2 516.7,38.5 517.5,38.3 C518.3,38.1 519.5,38.7 520.0,39.3 C520.5,39.9 520.1,38.8 520.8,41.7 C521.5,44.6 522.9,53.0 524.0,56.7 C525.1,60.4 526.9,62.8 527.5,64.0" fill="none" stroke="#040404" stroke-width="1.4" stroke-linecap="round" stroke-linejoin="round" />
<path d="M527.5,65.0 C526.8,68.0 525.4,75.6 523.3,83.3 C521.2,91.0 517.8,104.0 515.0,111.0 C512.2,118.0 508.1,122.7 506.7,125.0" fill="none" stroke="#040404" stroke-width="1.4" stroke-linecap="round" stroke-linejoin="round" />
<path d="M475.0,143.3 C476.9,140.8 482.0,132.7 486.7,128.3 C491.4,123.9 496.4,119.8 503.3,116.7 C510.2,113.6 521.9,110.8 528.0,109.5 C534.1,108.2 535.2,108.6 540.0,109.0 C544.8,109.4 551.2,109.9 556.7,111.7 C562.2,113.5 568.3,116.4 573.3,120.0 C578.3,123.6 583.8,130.2 586.7,133.3 C589.6,136.4 590.1,137.5 590.8,138.3" fill="none" stroke="#040404" stroke-width="1.4" stroke-linecap="round" stroke-linejoin="round" />
<path d="M590.8,138.3 L583.3,140.8" fill="none" stroke="#040404" stroke-width="1.4" stroke-linecap="round" stroke-linejoin="round" />
<path d="M588.3,140.0 C589.7,143.3 594.8,154.4 596.7,160.0 C598.7,165.6 599.3,169.1 600.0,173.3 C600.7,177.5 600.6,182.6 600.8,185.0 C601.0,187.4 601.0,187.5 601.0,188.0" fill="none" stroke="#040404" stroke-width="1.4" stroke-linecap="round" stroke-linejoin="round" />
<path d="M546.1,19.8 C548.8,22.8 557.7,32.2 562.5,37.8 C567.3,43.4 571.3,48.5 575.0,53.4 C578.7,58.3 582.9,64.2 584.5,67.0 C586.1,69.8 584.3,68.5 584.7,70.5 C585.1,72.5 585.6,75.9 587.0,79.3 C588.4,82.7 591.6,87.7 592.9,91.0 C594.2,94.3 595.3,96.5 594.7,99.2 C594.1,101.9 591.9,104.7 589.4,107.4 C586.9,110.2 582.4,113.6 580.0,115.7 C577.6,117.8 575.8,119.3 575.0,120.0" fill="none" stroke="#040404" stroke-width="1.4" stroke-linecap="round" stroke-linejoin="round" />
<path d="M551.6,23.0 C554.2,25.7 562.0,33.8 567.2,39.4 C572.4,45.0 578.1,51.6 582.8,56.6 C587.5,61.6 593.1,67.2 595.2,69.3" fill="none" stroke="#040404" stroke-width="1.25" stroke-linecap="round" stroke-linejoin="round" />
<path d="M553.9,22.2 C556.6,24.5 565.0,31.3 570.3,36.3 C575.6,41.2 581.0,46.4 585.9,51.9 C590.8,57.4 597.6,66.4 599.9,69.3" fill="none" stroke="#040404" stroke-width="1.25" stroke-linecap="round" stroke-linejoin="round" />
<path d="M557.0,24.5 C560.0,26.7 569.4,32.8 575.0,37.5 C580.6,42.2 585.6,47.2 590.5,52.5 C595.4,57.8 602.2,66.5 604.6,69.3" fill="none" stroke="#040404" stroke-width="1.25" stroke-linecap="round" stroke-linejoin="round" />
<path d="M598.8,71.1 C599.1,72.1 599.3,74.7 600.5,77.0 C601.7,79.3 604.1,82.9 605.8,85.2 C607.5,87.5 609.7,90.0 610.5,91.0" fill="none" stroke="#040404" stroke-width="1.25" stroke-linecap="round" stroke-linejoin="round" />
<path d="M601.7,71.1 C602.0,72.1 602.3,74.8 603.4,77.0 C604.5,79.2 606.5,82.3 608.1,84.6 C609.7,86.9 612.0,89.9 612.8,91.0" fill="none" stroke="#040404" stroke-width="1.25" stroke-linecap="round" stroke-linejoin="round" />
<path d="M618.7,91.0 C617.5,89.6 613.3,84.8 611.7,82.8 C610.1,80.8 609.3,79.8 609.3,78.7 C609.3,77.6 610.7,76.6 611.7,76.4 C612.7,76.2 613.5,76.3 615.2,77.6 C617.0,78.9 620.1,82.0 622.2,84.0 C624.4,86.0 627.1,88.9 628.1,89.9" fill="none" stroke="#040404" stroke-width="1.25" stroke-linecap="round" stroke-linejoin="round" />
<path d="M612.8,71.1 C614.0,72.5 617.6,76.8 620.0,79.5 C622.4,82.2 625.1,85.6 626.9,87.5 C628.6,89.4 629.9,90.4 630.5,91.0" fill="none" stroke="#040404" stroke-width="1.25" stroke-linecap="round" stroke-linejoin="round" />
<path d="M591.7,138.3 C592.1,138.8 592.9,140.3 594.0,141.0 C595.1,141.7 589.5,142.2 598.3,142.5 C607.1,142.8 638.6,142.5 646.7,142.5" fill="none" stroke="#040404" stroke-width="1.4" stroke-linecap="round" stroke-linejoin="round" />
<path d="M597.0,144.8 L647.5,144.8" fill="none" stroke="#040404" stroke-width="1.25" stroke-linecap="round" stroke-linejoin="round" />
<path d="M626.7,183.8 C627.2,182.7 628.6,179.7 630.0,177.0 C631.4,174.3 632.8,169.5 635.0,167.8 C637.2,166.1 641.9,167.1 643.3,166.9" fill="none" stroke="#040404" stroke-width="1.25" stroke-linecap="round" stroke-linejoin="round" />
<path d="M641.0,104.5 C641.4,105.6 642.8,109.1 643.3,111.0 C643.8,112.9 643.7,113.4 643.9,115.7 C644.1,118.0 644.4,123.5 644.5,125.0" fill="none" stroke="#040404" stroke-width="1.25" stroke-linecap="round" stroke-linejoin="round" />
<path d="M643.9,115.9 L647.2,116.3" fill="none" stroke="#040404" stroke-width="1.25" stroke-linecap="round" stroke-linejoin="round" />
<circle cx="342" cy="143.7" r="6.9" fill="none" stroke="#040404" stroke-width="1.15"/>
<path d="M330.7,143.7 L353.3,143.7" fill="none" stroke="#040404" stroke-width="1.4" stroke-linecap="round" stroke-linejoin="round" />
<path d="M342.0,132.4 L342.0,155.0" fill="none" stroke="#040404" stroke-width="1.4" stroke-linecap="round" stroke-linejoin="round" />
<circle cx="391.7" cy="161.7" r="6.9" fill="none" stroke="#040404" stroke-width="1.15"/>
<path d="M380.4,161.7 L403.0,161.7" fill="none" stroke="#040404" stroke-width="1.4" stroke-linecap="round" stroke-linejoin="round" />
<path d="M391.7,150.4 L391.7,173.0" fill="none" stroke="#040404" stroke-width="1.4" stroke-linecap="round" stroke-linejoin="round" />
<circle cx="219.7" cy="163.8" r="7.1" fill="none" stroke="#040404" stroke-width="1.15"/>
<path d="M208.1,163.8 L231.3,163.8" fill="none" stroke="#040404" stroke-width="1.4" stroke-linecap="round" stroke-linejoin="round" />
<path d="M219.7,152.2 L219.7,175.4" fill="none" stroke="#040404" stroke-width="1.4" stroke-linecap="round" stroke-linejoin="round" />
<circle cx="467.5" cy="130" r="6.9" fill="none" stroke="#040404" stroke-width="1.15"/>
<path d="M456.2,130.0 L478.8,130.0" fill="none" stroke="#040404" stroke-width="1.4" stroke-linecap="round" stroke-linejoin="round" />
<path d="M467.5,118.7 L467.5,141.3" fill="none" stroke="#040404" stroke-width="1.4" stroke-linecap="round" stroke-linejoin="round" />
<path d="M216.7,181.7 L222.5,198.0" fill="none" stroke="#040404" stroke-width="1.4" stroke-linecap="round" stroke-linejoin="round" />
</g>
<g id="top">
<path d="M3.2,511.4 C3.2,509.0 3.2,501.6 3.2,497.0 C3.2,492.4 3.2,488.2 3.3,484.0 C3.4,479.8 3.6,476.2 3.9,472.0 C4.2,467.8 4.7,462.7 5.2,459.0 C5.8,455.3 6.4,452.9 7.2,450.0 C8.0,447.1 8.9,444.5 10.0,441.5 C11.1,438.5 12.3,435.3 14.0,432.0 C15.7,428.7 17.7,424.8 20.0,421.5 C22.3,418.2 25.1,415.4 28.0,412.5 C30.9,409.6 33.8,406.8 37.5,404.0 C41.2,401.2 45.8,398.2 50.0,395.5 C54.2,392.8 58.8,390.0 62.5,387.8 C66.2,385.5 68.7,383.5 72.0,381.8 C75.3,380.1 77.8,378.5 82.5,377.6 C87.2,376.7 74.8,376.8 100.0,376.6 C125.2,376.4 206.5,376.8 234.0,376.6 C261.5,376.4 254.0,375.8 265.0,375.6 C276.0,375.4 277.5,375.6 300.0,375.6 C322.5,375.6 370.0,375.5 400.0,375.6 C430.0,375.7 456.7,376.0 480.0,376.0 C503.3,376.0 523.3,375.8 540.0,375.8 C556.7,375.8 571.1,375.3 580.0,375.8 C588.9,376.3 590.0,377.7 593.3,379.0 C596.6,380.3 598.0,382.1 600.0,383.5 C602.0,384.9 603.0,386.5 605.0,387.5 C607.0,388.5 609.0,388.8 612.0,389.3 C615.0,389.9 620.3,389.9 623.3,390.8 C626.3,391.8 628.0,393.5 630.0,395.0 C632.0,396.5 632.5,396.1 635.0,400.0 C637.5,403.9 642.2,410.8 645.0,418.3 C647.8,425.8 650.1,434.6 651.7,445.0 C653.3,455.4 654.0,469.9 654.5,481.0 C655.0,492.1 655.0,501.3 655.0,511.4 C655.0,521.5 655.0,530.7 654.5,541.8 C654.0,552.9 653.3,567.3 651.7,577.8 C650.1,588.2 647.8,597.0 645.0,604.5 C642.2,612.0 637.5,618.9 635.0,622.8 C632.5,626.7 632.0,626.3 630.0,627.8 C628.0,629.3 626.3,631.0 623.3,632.0 C620.3,633.0 615.0,633.0 612.0,633.5 C609.0,634.0 607.0,634.3 605.0,635.3 C603.0,636.3 602.0,637.9 600.0,639.3 C598.0,640.7 596.6,642.5 593.3,643.8 C590.0,645.1 588.9,646.5 580.0,647.0 C571.1,647.5 556.7,647.0 540.0,647.0 C523.3,647.0 503.3,646.8 480.0,646.8 C456.7,646.8 430.0,647.1 400.0,647.2 C370.0,647.3 322.5,647.2 300.0,647.2 C277.5,647.2 276.0,647.4 265.0,647.2 C254.0,647.0 261.5,646.4 234.0,646.2 C206.5,646.0 125.2,646.4 100.0,646.2 C74.8,646.0 87.2,646.1 82.5,645.2 C77.8,644.3 75.3,642.7 72.0,641.0 C68.7,639.3 66.2,637.3 62.5,635.0 C58.8,632.8 54.2,630.0 50.0,627.3 C45.8,624.6 41.2,621.6 37.5,618.8 C33.8,616.0 30.9,613.2 28.0,610.3 C25.1,607.4 22.3,604.5 20.0,601.3 C17.7,598.0 15.7,594.1 14.0,590.8 C12.3,587.5 11.1,584.3 10.0,581.3 C8.9,578.3 8.0,575.7 7.2,572.8 C6.4,569.9 5.8,567.5 5.2,563.8 C4.7,560.1 4.2,555.0 3.9,550.8 C3.6,546.6 3.4,543.0 3.3,538.8 C3.2,534.6 3.2,530.4 3.2,525.8 C3.2,521.2 3.2,513.8 3.2,511.4Z" fill="#eeeeec" stroke="none"/>
<path d="M80.0,386.0 C77.7,387.3 70.2,391.3 66.0,394.0 C61.8,396.7 59.0,398.5 55.0,402.0 C51.0,405.5 45.6,410.5 41.7,415.0 C37.8,419.5 34.4,424.4 31.7,429.0 C29.0,433.6 26.8,440.2 25.8,442.5" fill="none" stroke="#040404" stroke-width="1.4" stroke-linecap="round" stroke-linejoin="round" />
<path d="M80.0,636.8 C77.7,635.5 70.2,631.5 66.0,628.8 C61.8,626.1 59.0,624.3 55.0,620.8 C51.0,617.3 45.6,612.3 41.7,607.8 C37.8,603.3 34.4,598.4 31.7,593.8 C29.0,589.2 26.8,582.5 25.8,580.3" fill="none" stroke="#040404" stroke-width="1.4" stroke-linecap="round" stroke-linejoin="round" />
<path d="M92.0,384.0 C90.0,385.2 83.7,388.6 80.0,391.0 C76.3,393.4 74.2,395.0 70.0,398.5 C65.8,402.0 59.5,407.6 55.0,412.0 C50.5,416.4 46.3,420.9 43.3,425.0 C40.2,429.1 37.8,434.8 36.7,436.7" fill="none" stroke="#040404" stroke-width="1.4" stroke-linecap="round" stroke-linejoin="round" />
<path d="M92.0,638.8 C90.0,637.6 83.7,634.2 80.0,631.8 C76.3,629.4 74.2,627.8 70.0,624.3 C65.8,620.8 59.5,615.2 55.0,610.8 C50.5,606.4 46.3,601.9 43.3,597.8 C40.2,593.7 37.8,588.0 36.7,586.1" fill="none" stroke="#040404" stroke-width="1.4" stroke-linecap="round" stroke-linejoin="round" />
<path d="M12.5,450.8 C14.9,449.3 20.4,445.2 26.7,441.7 C33.0,438.2 40.6,434.0 50.0,430.0 C59.4,426.0 75.0,420.4 83.3,417.5 C91.6,414.6 94.4,414.0 100.0,412.5 C105.6,411.0 114.2,409.2 117.0,408.5" fill="none" stroke="#040404" stroke-width="1.4" stroke-linecap="round" stroke-linejoin="round" />
<path d="M12.5,572.0 C14.9,573.5 20.4,577.6 26.7,581.1 C33.0,584.6 40.6,588.8 50.0,592.8 C59.4,596.8 75.0,602.4 83.3,605.3 C91.6,608.2 94.4,608.8 100.0,610.3 C105.6,611.8 114.2,613.6 117.0,614.3" fill="none" stroke="#040404" stroke-width="1.4" stroke-linecap="round" stroke-linejoin="round" />
<path d="M29.2,450.0 C31.3,448.6 35.5,445.2 41.7,441.7 C48.0,438.2 57.0,433.2 66.7,429.0 C76.4,424.8 91.7,419.6 100.0,416.7 C108.3,413.8 111.4,413.2 116.7,411.9 C122.0,410.6 129.4,409.3 132.0,408.8" fill="none" stroke="#040404" stroke-width="1.4" stroke-linecap="round" stroke-linejoin="round" />
<path d="M29.2,572.8 C31.3,574.2 35.5,577.6 41.7,581.1 C48.0,584.6 57.0,589.6 66.7,593.8 C76.4,598.0 91.7,603.2 100.0,606.1 C108.3,608.9 111.4,609.6 116.7,610.9 C122.0,612.2 129.4,613.5 132.0,614.0" fill="none" stroke="#040404" stroke-width="1.4" stroke-linecap="round" stroke-linejoin="round" />
<path d="M29.2,572.8 C28.9,570.0 28.0,562.8 27.5,556.1 C27.0,549.4 26.5,540.2 26.2,532.8 C25.9,525.3 25.8,518.5 25.8,511.4 C25.8,504.3 25.9,497.4 26.2,490.0 C26.5,482.6 27.0,473.4 27.5,466.7 C28.0,460.0 28.9,452.8 29.2,450.0" fill="none" stroke="#040404" stroke-width="1.4" stroke-linecap="round" stroke-linejoin="round" />
<path d="M8.2,562.4 C8.8,562.9 10.5,565.1 11.5,565.5 C12.5,565.9 13.4,565.5 14.0,565.0 C14.6,564.5 15.0,563.7 15.2,562.3 C15.4,560.9 15.2,560.0 15.0,556.8 C14.8,553.6 14.5,547.7 14.3,542.9 C14.1,538.1 13.8,533.0 13.6,527.8 C13.4,522.5 13.2,516.9 13.2,511.4 C13.2,505.9 13.4,500.2 13.6,495.0 C13.8,489.8 14.1,484.7 14.3,479.9 C14.5,475.1 14.8,469.2 15.0,466.0 C15.2,462.8 15.4,461.9 15.2,460.5 C15.0,459.1 14.6,458.3 14.0,457.8 C13.4,457.3 12.5,456.9 11.5,457.3 C10.5,457.7 8.8,459.9 8.2,460.4" fill="none" stroke="#040404" stroke-width="1.4" stroke-linecap="round" stroke-linejoin="round" />
<path d="M7.5,562.8 C7.3,557.8 6.5,541.4 6.2,532.8 C5.9,524.2 5.9,518.5 5.9,511.4 C5.9,504.3 5.9,498.6 6.2,490.0 C6.5,481.4 7.3,465.0 7.5,460.0" fill="none" stroke="#040404" stroke-width="1.4" stroke-linecap="round" stroke-linejoin="round" />
<path d="M178.0,611.1 C176.3,608.3 171.1,600.9 168.0,594.5 C164.9,588.1 161.7,582.0 159.3,572.8 C156.9,563.6 154.9,549.7 153.8,539.5 C152.8,529.3 153.0,520.8 153.0,511.4 C153.0,502.0 152.8,493.5 153.8,483.3 C154.9,473.1 156.9,459.2 159.3,450.0 C161.7,440.8 164.9,434.7 168.0,428.3 C171.1,421.9 176.3,414.5 178.0,411.7" fill="none" stroke="#040404" stroke-width="1.4" stroke-linecap="round" stroke-linejoin="round" />
<path d="M181.3,611.1 C179.6,607.5 173.9,596.2 171.3,589.5 C168.7,582.8 167.3,577.8 165.8,570.8 C164.3,563.8 163.2,555.2 162.2,547.8 C161.2,540.3 160.3,532.2 159.7,526.1 C159.1,520.0 158.8,516.3 158.8,511.4 C158.8,506.5 159.1,502.8 159.7,496.7 C160.3,490.6 161.2,482.4 162.2,475.0 C163.2,467.6 164.3,458.9 165.8,452.0 C167.3,445.1 168.7,440.0 171.3,433.3 C173.9,426.6 179.6,415.3 181.3,411.7" fill="none" stroke="#040404" stroke-width="1.4" stroke-linecap="round" stroke-linejoin="round" />
<path d="M199.7,609.5 C198.3,605.6 193.4,592.2 191.3,586.1 C189.2,580.0 188.3,576.7 187.2,572.8 C186.1,568.9 185.9,568.3 184.7,562.8 C183.4,557.2 180.9,548.1 179.7,539.5 C178.5,530.9 177.7,520.8 177.7,511.4 C177.7,502.0 178.5,491.9 179.7,483.3 C180.9,474.7 183.4,465.6 184.7,460.0 C185.9,454.4 186.1,453.9 187.2,450.0 C188.3,446.1 189.2,442.8 191.3,436.7 C193.4,430.6 198.3,417.2 199.7,413.3" fill="none" stroke="#040404" stroke-width="1.4" stroke-linecap="round" stroke-linejoin="round" />
<path d="M187.2,404.0 C187.7,403.5 189.0,401.8 190.0,401.0 C191.0,400.2 190.5,399.4 193.0,399.5 C195.5,399.6 203.0,401.5 205.0,401.9" fill="none" stroke="#040404" stroke-width="1.4" stroke-linecap="round" stroke-linejoin="round" />
<path d="M187.2,618.8 C187.7,619.3 189.0,621.0 190.0,621.8 C191.0,622.5 190.5,623.4 193.0,623.3 C195.5,623.1 203.0,621.3 205.0,620.9" fill="none" stroke="#040404" stroke-width="1.4" stroke-linecap="round" stroke-linejoin="round" />
<path d="M199.7,413.3 L215.0,411.0 L230.4,409.5" fill="none" stroke="#040404" stroke-width="1.4" stroke-linecap="round" stroke-linejoin="round" />
<path d="M199.7,609.5 L215.0,611.8 L230.4,613.3" fill="none" stroke="#040404" stroke-width="1.4" stroke-linecap="round" stroke-linejoin="round" />
<path d="M187.0,395.0 C189.2,394.8 191.2,394.1 200.0,393.8 C208.8,393.5 227.9,393.4 240.0,393.2 C252.1,393.0 261.6,392.6 272.7,392.6 C283.8,392.6 296.3,393.0 306.7,393.1 C317.1,393.2 324.8,393.1 335.0,393.3 C345.2,393.5 354.7,393.6 368.0,394.3 C381.3,395.0 407.2,397.0 415.0,397.5" fill="none" stroke="#040404" stroke-width="1.4" stroke-linecap="round" stroke-linejoin="round" />
<path d="M187.0,627.8 C189.2,628.0 191.2,628.7 200.0,629.0 C208.8,629.3 227.9,629.4 240.0,629.6 C252.1,629.8 261.6,630.2 272.7,630.2 C283.8,630.2 296.3,629.8 306.7,629.7 C317.1,629.6 324.8,629.7 335.0,629.5 C345.2,629.3 354.7,629.2 368.0,628.5 C381.3,627.8 407.2,625.8 415.0,625.3" fill="none" stroke="#040404" stroke-width="1.4" stroke-linecap="round" stroke-linejoin="round" />
<path d="M211.8,394.3 C216.3,395.4 228.8,398.7 238.9,401.1 C249.1,403.5 261.4,406.5 272.7,408.7 C284.0,410.9 296.2,412.7 306.6,414.1 C317.0,415.5 326.1,416.5 335.0,417.2 C343.9,417.9 344.2,417.8 360.0,418.5 C375.8,419.2 408.7,420.6 430.0,421.5 C451.3,422.4 473.0,423.1 488.0,424.0 C503.0,424.9 511.6,425.9 520.0,426.6 C528.4,427.3 534.1,428.2 538.3,428.3 C542.5,428.4 542.8,427.8 545.0,427.0 C547.2,426.2 548.7,425.2 551.7,423.3 C554.8,421.4 561.4,416.8 563.3,415.5" fill="none" stroke="#040404" stroke-width="1.2" stroke-linecap="round" stroke-linejoin="round" />
<path d="M211.8,628.5 C216.3,627.4 228.8,624.1 238.9,621.7 C249.1,619.3 261.4,616.3 272.7,614.1 C284.0,611.9 296.2,610.1 306.6,608.7 C317.0,607.3 326.1,606.3 335.0,605.6 C343.9,604.9 344.2,605.0 360.0,604.3 C375.8,603.6 408.7,602.2 430.0,601.3 C451.3,600.4 473.0,599.6 488.0,598.8 C503.0,597.9 511.6,596.9 520.0,596.2 C528.4,595.5 534.1,594.6 538.3,594.5 C542.5,594.4 542.8,595.0 545.0,595.8 C547.2,596.6 548.7,597.6 551.7,599.5 C554.8,601.4 561.4,606.0 563.3,607.3" fill="none" stroke="#040404" stroke-width="1.2" stroke-linecap="round" stroke-linejoin="round" />
<path d="M212.6,396.5 C217.0,397.6 228.9,400.9 238.9,403.3 C248.9,405.7 261.4,408.7 272.7,410.9 C284.0,413.1 296.2,414.9 306.6,416.3 C317.0,417.7 326.1,418.6 335.0,419.3 C343.9,420.1 344.2,420.0 360.0,420.8 C375.8,421.6 408.7,423.0 430.0,424.0 C451.3,425.0 473.0,425.9 488.0,426.7 C503.0,427.5 511.7,428.2 520.0,428.8 C528.3,429.4 533.7,430.2 538.0,430.2 C542.3,430.2 543.3,429.9 546.0,429.0 C548.7,428.1 550.7,426.7 554.0,424.5 C557.3,422.3 564.0,417.4 566.0,416.0" fill="none" stroke="#040404" stroke-width="1.2" stroke-linecap="round" stroke-linejoin="round" />
<path d="M212.6,626.3 C217.0,625.2 228.9,621.9 238.9,619.5 C248.9,617.1 261.4,614.1 272.7,611.9 C284.0,609.7 296.2,607.9 306.6,606.5 C317.0,605.1 326.1,604.2 335.0,603.5 C343.9,602.8 344.2,602.8 360.0,602.0 C375.8,601.2 408.7,599.8 430.0,598.8 C451.3,597.8 473.0,596.9 488.0,596.1 C503.0,595.3 511.7,594.6 520.0,594.0 C528.3,593.4 533.7,592.6 538.0,592.6 C542.3,592.6 543.3,592.8 546.0,593.8 C548.7,594.8 550.7,596.1 554.0,598.3 C557.3,600.5 564.0,605.4 566.0,606.8" fill="none" stroke="#040404" stroke-width="1.2" stroke-linecap="round" stroke-linejoin="round" />
<path d="M205.0,401.9 C209.2,403.2 222.2,407.4 230.4,409.5 C238.6,411.6 245.6,412.9 254.1,414.6 C262.6,416.3 272.4,418.3 281.2,419.7 C289.9,421.1 297.6,422.0 306.6,423.1 C315.6,424.2 324.8,425.2 335.0,426.5 C345.2,427.8 348.3,428.7 368.0,430.8 C387.7,432.9 433.3,437.1 453.3,439.0 C473.3,440.9 472.4,441.1 488.0,442.5 C503.6,443.9 536.9,446.7 546.7,447.5" fill="none" stroke="#040404" stroke-width="1.4" stroke-linecap="round" stroke-linejoin="round" />
<path d="M205.0,620.9 C209.2,619.6 222.2,615.4 230.4,613.3 C238.6,611.2 245.6,609.9 254.1,608.2 C262.6,606.5 272.4,604.5 281.2,603.1 C289.9,601.7 297.6,600.8 306.6,599.7 C315.6,598.6 324.8,597.6 335.0,596.3 C345.2,595.0 348.3,594.1 368.0,592.0 C387.7,589.9 433.3,585.8 453.3,583.8 C473.3,581.8 472.4,581.7 488.0,580.3 C503.6,578.9 536.9,576.1 546.7,575.3" fill="none" stroke="#040404" stroke-width="1.4" stroke-linecap="round" stroke-linejoin="round" />
<path d="M546.7,575.3 C548.9,575.8 552.2,576.2 560.0,578.3 C567.8,580.4 585.2,586.0 593.3,587.8 C601.3,589.6 604.1,589.8 608.3,589.3 C612.5,588.8 615.2,586.2 618.3,584.5 C621.4,582.8 624.5,581.9 626.7,578.8 C628.9,575.7 630.4,570.4 631.7,566.1 C633.1,561.8 633.8,561.9 634.8,552.8 C635.8,543.7 637.7,525.2 637.7,511.4 C637.7,497.6 635.8,479.1 634.8,470.0 C633.8,460.9 633.1,461.0 631.7,456.7 C630.4,452.4 628.9,447.1 626.7,444.0 C624.5,440.9 621.4,440.1 618.3,438.3 C615.2,436.6 612.5,434.1 608.3,433.5 C604.1,432.9 601.3,433.2 593.3,435.0 C585.2,436.8 567.8,442.4 560.0,444.5 C552.2,446.6 548.9,447.0 546.7,447.5" fill="none" stroke="#040404" stroke-width="1.4" stroke-linecap="round" stroke-linejoin="round" />
<path d="M546.7,447.5 C546.8,446.5 546.4,443.8 547.5,441.7 C548.6,439.6 551.2,436.7 553.3,435.0 C555.4,433.3 556.1,433.6 560.0,431.7 C563.9,429.8 572.1,425.7 576.7,423.3 C581.3,420.9 585.3,419.6 587.5,417.5 C589.7,415.4 589.6,412.1 590.0,411.0" fill="none" stroke="#040404" stroke-width="1.4" stroke-linecap="round" stroke-linejoin="round" />
<path d="M546.7,575.3 C546.8,576.3 546.4,579.0 547.5,581.1 C548.6,583.2 551.2,586.1 553.3,587.8 C555.4,589.5 556.1,589.1 560.0,591.1 C563.9,593.0 572.1,597.1 576.7,599.5 C581.3,601.9 585.3,603.2 587.5,605.3 C589.7,607.3 589.6,610.7 590.0,611.8" fill="none" stroke="#040404" stroke-width="1.4" stroke-linecap="round" stroke-linejoin="round" />
<path d="M550.8,574.5 C550.7,570.9 550.6,563.3 550.3,552.8 C550.0,542.3 548.9,525.2 548.9,511.4 C548.9,497.6 550.0,480.5 550.3,470.0 C550.6,459.5 550.7,451.9 550.8,448.3" fill="none" stroke="#040404" stroke-width="1.4" stroke-linecap="round" stroke-linejoin="round" />
<path d="M632.4,582.0 C633.0,581.6 634.2,581.0 635.8,579.5 C637.3,578.0 639.9,576.4 641.7,572.8 C643.5,569.2 645.7,561.1 646.7,557.8 C647.7,554.5 647.3,560.5 647.7,552.8 C648.1,545.1 649.2,525.2 649.2,511.4 C649.2,497.6 648.1,477.7 647.7,470.0 C647.3,462.3 647.7,468.3 646.7,465.0 C645.7,461.7 643.5,453.6 641.7,450.0 C639.9,446.4 637.3,444.8 635.8,443.3 C634.2,441.8 633.0,441.2 632.4,440.8" fill="none" stroke="#040404" stroke-width="1.4" stroke-linecap="round" stroke-linejoin="round" />
<path d="M254.1,414.6 C254.8,418.8 257.4,430.2 258.3,440.0 C259.2,449.8 259.3,464.9 259.5,473.3 C259.7,481.7 259.5,487.6 259.5,490.5" fill="none" stroke="#040404" stroke-width="1.4" stroke-linecap="round" stroke-linejoin="round" />
<path d="M259.5,490.5 L281.7,495.5 L308.4,497.3 L312.5,500.0 L313.3,522.0 L308.4,524.7 L281.7,527.0 L264.6,530.0 L260.5,538.4" fill="none" stroke="#040404" stroke-width="1.1" stroke-linecap="round" stroke-linejoin="round" />
<path d="M415.2,378.0 L415.2,397.5" fill="none" stroke="#040404" stroke-width="1.4" stroke-linecap="round" stroke-linejoin="round" />
<path d="M415.2,644.8 L415.2,625.3" fill="none" stroke="#040404" stroke-width="1.4" stroke-linecap="round" stroke-linejoin="round" />
<path d="M401.7,397.5 C402.6,399.2 405.5,404.2 407.0,408.0 C408.5,411.8 410.2,418.0 410.8,420.0" fill="none" stroke="#040404" stroke-width="1.4" stroke-linecap="round" stroke-linejoin="round" />
<path d="M401.7,625.3 C402.6,623.5 405.5,618.5 407.0,614.8 C408.5,611.0 410.2,604.8 410.8,602.8" fill="none" stroke="#040404" stroke-width="1.4" stroke-linecap="round" stroke-linejoin="round" />
<path d="M414.0,397.5 C414.4,399.2 415.8,404.2 416.5,408.0 C417.2,411.8 418.0,418.0 418.3,420.0" fill="none" stroke="#040404" stroke-width="1.4" stroke-linecap="round" stroke-linejoin="round" />
<path d="M414.0,625.3 C414.4,623.5 415.8,618.5 416.5,614.8 C417.2,611.0 418.0,604.8 418.3,602.8" fill="none" stroke="#040404" stroke-width="1.4" stroke-linecap="round" stroke-linejoin="round" />
<path d="M415.0,395.0 C420.8,395.5 439.2,397.0 450.0,398.0 C460.8,399.0 473.1,399.9 480.0,400.8 C486.9,401.7 489.8,402.9 491.7,403.3" fill="none" stroke="#040404" stroke-width="1.4" stroke-linecap="round" stroke-linejoin="round" />
<path d="M415.0,627.8 C420.8,627.3 439.2,625.8 450.0,624.8 C460.8,623.8 473.1,622.9 480.0,622.0 C486.9,621.1 489.8,619.9 491.7,619.5" fill="none" stroke="#040404" stroke-width="1.4" stroke-linecap="round" stroke-linejoin="round" />
<path d="M423.3,420.0 C423.1,418.3 422.2,412.9 421.9,410.0 C421.6,407.1 421.4,404.3 421.7,402.5 C422.0,400.7 422.7,400.0 423.5,399.3 C424.3,398.6 420.6,397.8 426.7,398.3 C432.8,398.8 449.8,401.1 460.0,402.3 C470.2,403.6 482.7,405.1 488.0,405.8 C493.3,406.6 491.3,406.6 492.0,406.8" fill="none" stroke="#040404" stroke-width="1.4" stroke-linecap="round" stroke-linejoin="round" />
<path d="M423.3,602.8 C423.1,604.5 422.2,609.9 421.9,612.8 C421.6,615.7 421.4,618.5 421.7,620.3 C422.0,622.1 422.7,622.8 423.5,623.5 C424.3,624.2 420.6,625.0 426.7,624.5 C432.8,624.0 449.8,621.8 460.0,620.5 C470.2,619.2 482.7,617.8 488.0,617.0 C493.3,616.2 491.3,616.2 492.0,616.0" fill="none" stroke="#040404" stroke-width="1.4" stroke-linecap="round" stroke-linejoin="round" />
<path d="M298.3,422.5 C301.1,422.2 308.1,421.1 315.0,420.8 C321.9,420.5 333.6,420.7 340.0,420.8 C346.4,420.9 350.8,420.7 353.3,421.7 C355.8,422.7 353.6,425.3 355.0,426.7 C356.4,428.1 360.2,428.9 361.7,430.0 C363.2,431.1 363.6,426.6 364.0,433.3 C364.4,440.0 364.6,461.8 364.4,470.0 C364.2,478.2 364.7,479.3 363.0,482.3 C361.3,485.3 355.9,486.0 354.3,487.8 C352.7,489.6 356.6,492.2 353.5,493.2 C350.4,494.2 344.1,494.2 335.7,494.0 C327.3,493.8 310.3,493.6 303.0,491.9 C295.7,490.2 294.6,487.3 292.0,483.7 C289.4,480.1 288.4,474.8 287.5,470.0 C286.6,465.2 286.8,459.4 286.7,455.0 C286.6,450.6 286.3,447.8 286.9,443.3 C287.4,438.9 288.1,431.8 290.0,428.3 C291.9,424.8 296.9,423.5 298.3,422.5" fill="none" stroke="#040404" stroke-width="1.4" stroke-linecap="round" stroke-linejoin="round" />
<path d="M298.3,600.3 C301.1,600.6 308.1,601.7 315.0,602.0 C321.9,602.3 333.6,602.1 340.0,602.0 C346.4,601.9 350.8,602.1 353.3,601.1 C355.8,600.1 353.6,597.5 355.0,596.1 C356.4,594.7 360.2,593.9 361.7,592.8 C363.2,591.7 363.6,596.2 364.0,589.5 C364.4,582.8 364.6,561.0 364.4,552.8 C364.2,544.6 364.7,543.5 363.0,540.5 C361.3,537.5 355.9,536.8 354.3,535.0 C352.7,533.2 356.6,530.6 353.5,529.6 C350.4,528.6 344.1,528.6 335.7,528.8 C327.3,529.0 310.3,529.2 303.0,530.9 C295.7,532.6 294.6,535.4 292.0,539.1 C289.4,542.7 288.4,548.0 287.5,552.8 C286.6,557.6 286.8,563.3 286.7,567.8 C286.6,572.2 286.3,575.0 286.9,579.5 C287.4,584.0 288.1,591.0 290.0,594.5 C291.9,598.0 296.9,599.3 298.3,600.3" fill="none" stroke="#040404" stroke-width="1.4" stroke-linecap="round" stroke-linejoin="round" />
<path d="M298.3,422.5 C297.5,425.4 294.8,432.9 293.3,440.0 C291.8,447.1 290.2,456.7 289.3,465.0 C288.4,473.3 288.2,482.3 288.0,490.0 C287.8,497.7 287.9,507.8 287.9,511.4" fill="none" stroke="#040404" stroke-width="1.4" stroke-linecap="round" stroke-linejoin="round" />
<path d="M298.3,600.3 C297.5,597.4 294.8,589.9 293.3,582.8 C291.8,575.7 290.2,566.1 289.3,557.8 C288.4,549.5 288.2,540.5 288.0,532.8 C287.8,525.1 287.9,515.0 287.9,511.4" fill="none" stroke="#040404" stroke-width="1.4" stroke-linecap="round" stroke-linejoin="round" />
<path d="M353.5,493.2 C356.5,493.7 364.7,496.0 371.3,496.0 C377.9,496.0 388.0,495.2 393.0,493.2 C398.0,491.1 399.5,487.6 401.3,483.7 C403.1,479.8 403.6,475.6 404.0,470.0 C404.4,464.4 404.2,455.6 404.0,450.0 C403.8,444.4 403.4,440.9 402.5,436.7 C401.6,432.5 401.2,427.6 398.3,425.0 C395.4,422.4 391.4,421.6 385.0,420.8 C378.6,420.1 364.2,420.6 360.0,420.5" fill="none" stroke="#040404" stroke-width="1.4" stroke-linecap="round" stroke-linejoin="round" />
<path d="M353.5,529.6 C356.5,529.1 364.7,526.8 371.3,526.8 C377.9,526.8 388.0,527.5 393.0,529.6 C398.0,531.6 399.5,535.2 401.3,539.1 C403.1,543.0 403.6,547.2 404.0,552.8 C404.4,558.4 404.2,567.2 404.0,572.8 C403.8,578.3 403.4,581.9 402.5,586.1 C401.6,590.3 401.2,595.1 398.3,597.8 C395.4,600.4 391.4,601.2 385.0,602.0 C378.6,602.8 364.2,602.2 360.0,602.3" fill="none" stroke="#040404" stroke-width="1.4" stroke-linecap="round" stroke-linejoin="round" />
<path d="M404.0,423.3 C404.4,424.1 405.9,425.9 406.5,428.0 C407.1,430.1 407.5,430.7 407.3,436.0 C407.1,441.3 405.8,451.0 405.5,460.0 C405.2,469.0 405.4,481.4 405.4,490.0 C405.4,498.6 405.4,507.8 405.4,511.4" fill="none" stroke="#040404" stroke-width="1.4" stroke-linecap="round" stroke-linejoin="round" />
<path d="M404.0,599.5 C404.4,598.7 405.9,596.9 406.5,594.8 C407.1,592.7 407.5,592.1 407.3,586.8 C407.1,581.5 405.8,571.8 405.5,562.8 C405.2,553.8 405.4,541.4 405.4,532.8 C405.4,524.2 405.4,515.0 405.4,511.4" fill="none" stroke="#040404" stroke-width="1.4" stroke-linecap="round" stroke-linejoin="round" />
<path d="M360.0,431.0 C360.6,431.2 362.8,432.2 363.3,432.5" fill="none" stroke="#040404" stroke-width="1.4" stroke-linecap="round" stroke-linejoin="round" />
<path d="M360.0,591.8 C360.6,591.5 362.8,590.5 363.3,590.3" fill="none" stroke="#040404" stroke-width="1.4" stroke-linecap="round" stroke-linejoin="round" />
<path d="M406.8,508.3 L440.0,505.0 L460.0,503.5" fill="none" stroke="#040404" stroke-width="1.4" stroke-linecap="round" stroke-linejoin="round" />
<path d="M406.8,514.5 L440.0,517.8 L460.0,519.3" fill="none" stroke="#040404" stroke-width="1.4" stroke-linecap="round" stroke-linejoin="round" />
<path d="M476.7,426.7 C477.1,428.6 478.0,435.5 479.0,438.3 C480.0,441.1 481.8,438.0 482.5,443.3 C483.2,448.6 483.0,463.2 483.0,470.0 C483.0,476.8 483.1,481.0 482.4,484.3 C481.7,487.6 479.6,487.6 478.7,490.0 C477.8,492.4 477.9,496.8 477.2,498.6 C476.5,500.4 476.1,500.4 474.4,501.0 C472.7,501.6 468.4,502.0 467.2,502.2" fill="none" stroke="#040404" stroke-width="1.4" stroke-linecap="round" stroke-linejoin="round" />
<path d="M476.7,596.1 C477.1,594.2 478.0,587.3 479.0,584.5 C480.0,581.7 481.8,584.8 482.5,579.5 C483.2,574.2 483.0,559.6 483.0,552.8 C483.0,546.0 483.1,541.8 482.4,538.5 C481.7,535.2 479.6,535.2 478.7,532.8 C477.8,530.4 477.9,526.0 477.2,524.2 C476.5,522.4 476.1,522.4 474.4,521.8 C472.7,521.2 468.4,520.8 467.2,520.6" fill="none" stroke="#040404" stroke-width="1.4" stroke-linecap="round" stroke-linejoin="round" />
<path d="M477.2,501.0 C482.9,500.8 503.7,501.1 511.6,500.0 C519.5,498.9 521.4,497.0 524.5,494.4 C527.6,491.8 529.1,488.4 530.3,484.3 C531.5,480.2 531.8,476.6 531.7,470.0 C531.7,463.4 530.6,450.7 530.0,445.0 C529.4,439.3 530.2,437.6 528.3,435.8 C526.3,434.0 520.8,435.1 518.3,434.0 C515.8,432.9 514.1,429.8 513.3,429.0" fill="none" stroke="#040404" stroke-width="1.4" stroke-linecap="round" stroke-linejoin="round" />
<path d="M477.2,521.8 C482.9,522.0 503.7,521.7 511.6,522.8 C519.5,523.9 521.4,525.8 524.5,528.4 C527.6,531.0 529.1,534.4 530.3,538.5 C531.5,542.6 531.8,546.2 531.7,552.8 C531.7,559.3 530.6,572.1 530.0,577.8 C529.4,583.5 530.2,585.2 528.3,587.0 C526.3,588.8 520.8,587.7 518.3,588.8 C515.8,589.9 514.1,593.0 513.3,593.8" fill="none" stroke="#040404" stroke-width="1.4" stroke-linecap="round" stroke-linejoin="round" />
<path d="M605.7,393.7 C605.1,394.4 602.4,395.8 601.8,397.6 C601.2,399.4 601.6,401.6 602.3,404.4 C602.9,407.1 604.2,410.9 605.7,414.1 C607.2,417.3 609.2,420.9 611.5,423.8 C613.8,426.7 616.7,429.3 619.3,431.6 C621.9,433.9 624.8,435.9 627.0,437.4 C629.2,438.9 631.5,440.2 632.4,440.8" fill="none" stroke="#040404" stroke-width="1.25" stroke-linecap="round" stroke-linejoin="round" />
<path d="M605.7,629.1 C605.1,628.4 602.4,627.0 601.8,625.2 C601.2,623.4 601.6,621.1 602.3,618.4 C602.9,615.6 604.2,611.9 605.7,608.7 C607.2,605.5 609.2,601.9 611.5,599.0 C613.8,596.1 616.7,593.5 619.3,591.2 C621.9,588.9 624.8,586.9 627.0,585.4 C629.2,583.9 631.5,582.6 632.4,582.0" fill="none" stroke="#040404" stroke-width="1.25" stroke-linecap="round" stroke-linejoin="round" />
<path d="M605.7,393.7 C607.2,393.6 611.6,390.7 614.4,392.8 C617.1,394.9 619.8,401.5 622.2,406.4 C624.6,411.2 627.1,416.7 629.0,421.9 C630.9,427.1 632.9,434.2 633.8,437.4 C634.7,440.5 634.6,440.0 634.3,440.8 C634.0,441.6 633.3,441.7 631.9,442.3 C630.5,442.9 627.1,443.9 626.1,444.2" fill="none" stroke="#040404" stroke-width="1.25" stroke-linecap="round" stroke-linejoin="round" />
<path d="M605.7,629.1 C607.2,629.2 611.6,632.1 614.4,630.0 C617.1,627.9 619.8,621.2 622.2,616.4 C624.6,611.5 627.1,606.1 629.0,600.9 C630.9,595.7 632.9,588.5 633.8,585.4 C634.7,582.2 634.6,582.8 634.3,582.0 C634.0,581.2 633.3,581.1 631.9,580.5 C630.5,579.9 627.1,578.9 626.1,578.6" fill="none" stroke="#040404" stroke-width="1.25" stroke-linecap="round" stroke-linejoin="round" />
<path d="M620.2,403.9 C619.2,404.0 615.7,404.0 614.4,404.4 C613.1,404.8 612.8,405.4 612.5,406.4 C612.2,407.4 612.0,408.3 612.5,410.2 C613.0,412.1 614.1,415.7 615.4,418.0 C616.7,420.3 618.3,422.0 620.2,423.8 C622.1,425.6 625.1,427.5 627.0,428.7 C628.9,429.9 630.7,430.7 631.4,431.1" fill="none" stroke="#040404" stroke-width="1.25" stroke-linecap="round" stroke-linejoin="round" />
<path d="M620.2,618.9 C619.2,618.8 615.7,618.8 614.4,618.4 C613.1,618.0 612.8,617.4 612.5,616.4 C612.2,615.4 612.0,614.5 612.5,612.6 C613.0,610.7 614.1,607.1 615.4,604.8 C616.7,602.5 618.3,600.8 620.2,599.0 C622.1,597.2 625.1,595.3 627.0,594.1 C628.9,592.9 630.7,592.1 631.4,591.7" fill="none" stroke="#040404" stroke-width="1.25" stroke-linecap="round" stroke-linejoin="round" />
<path d="M589.0,391.7 L603.3,390.0" fill="none" stroke="#040404" stroke-width="1.4" stroke-linecap="round" stroke-linejoin="round" />
<path d="M589.0,631.1 L603.3,632.8" fill="none" stroke="#040404" stroke-width="1.4" stroke-linecap="round" stroke-linejoin="round" />
<rect x="89.6" y="380.3" width="97.6" height="31.2" rx="8" fill="#040404"/>
<line x1="101.0" y1="396.2" x2="174.5" y2="396.2" stroke="#f1f1ef" stroke-width="0.9"/>
<rect x="89.9" y="611.4" width="97.2" height="30.8" rx="8" fill="#040404"/>
<line x1="101.0" y1="626.3" x2="174.5" y2="626.3" stroke="#f1f1ef" stroke-width="0.9"/>
<rect x="491.3" y="380.8" width="97.9" height="33.4" rx="8" fill="#040404"/>
<line x1="503.0" y1="398.4" x2="575.0" y2="398.4" stroke="#f1f1ef" stroke-width="0.9"/>
<rect x="491.2" y="609.0" width="97.9" height="32.6" rx="8" fill="#040404"/>
<line x1="503.0" y1="624.6" x2="575.0" y2="624.6" stroke="#f1f1ef" stroke-width="0.9"/>
<path d="M3.2,511.4 C3.2,509.0 3.2,501.6 3.2,497.0 C3.2,492.4 3.2,488.2 3.3,484.0 C3.4,479.8 3.6,476.2 3.9,472.0 C4.2,467.8 4.7,462.7 5.2,459.0 C5.8,455.3 6.4,452.9 7.2,450.0 C8.0,447.1 8.9,444.5 10.0,441.5 C11.1,438.5 12.3,435.3 14.0,432.0 C15.7,428.7 17.7,424.8 20.0,421.5 C22.3,418.2 25.1,415.4 28.0,412.5 C30.9,409.6 33.8,406.8 37.5,404.0 C41.2,401.2 45.8,398.2 50.0,395.5 C54.2,392.8 58.8,390.0 62.5,387.8 C66.2,385.5 68.7,383.5 72.0,381.8 C75.3,380.1 77.8,378.5 82.5,377.6 C87.2,376.7 74.8,376.8 100.0,376.6 C125.2,376.4 206.5,376.8 234.0,376.6 C261.5,376.4 254.0,375.8 265.0,375.6 C276.0,375.4 277.5,375.6 300.0,375.6 C322.5,375.6 370.0,375.5 400.0,375.6 C430.0,375.7 456.7,376.0 480.0,376.0 C503.3,376.0 523.3,375.8 540.0,375.8 C556.7,375.8 571.1,375.3 580.0,375.8 C588.9,376.3 590.0,377.7 593.3,379.0 C596.6,380.3 598.0,382.1 600.0,383.5 C602.0,384.9 603.0,386.5 605.0,387.5 C607.0,388.5 609.0,388.8 612.0,389.3 C615.0,389.9 620.3,389.9 623.3,390.8 C626.3,391.8 628.0,393.5 630.0,395.0 C632.0,396.5 632.5,396.1 635.0,400.0 C637.5,403.9 642.2,410.8 645.0,418.3 C647.8,425.8 650.1,434.6 651.7,445.0 C653.3,455.4 654.0,469.9 654.5,481.0 C655.0,492.1 655.0,501.3 655.0,511.4 C655.0,521.5 655.0,530.7 654.5,541.8 C654.0,552.9 653.3,567.3 651.7,577.8 C650.1,588.2 647.8,597.0 645.0,604.5 C642.2,612.0 637.5,618.9 635.0,622.8 C632.5,626.7 632.0,626.3 630.0,627.8 C628.0,629.3 626.3,631.0 623.3,632.0 C620.3,633.0 615.0,633.0 612.0,633.5 C609.0,634.0 607.0,634.3 605.0,635.3 C603.0,636.3 602.0,637.9 600.0,639.3 C598.0,640.7 596.6,642.5 593.3,643.8 C590.0,645.1 588.9,646.5 580.0,647.0 C571.1,647.5 556.7,647.0 540.0,647.0 C523.3,647.0 503.3,646.8 480.0,646.8 C456.7,646.8 430.0,647.1 400.0,647.2 C370.0,647.3 322.5,647.2 300.0,647.2 C277.5,647.2 276.0,647.4 265.0,647.2 C254.0,647.0 261.5,646.4 234.0,646.2 C206.5,646.0 125.2,646.4 100.0,646.2 C74.8,646.0 87.2,646.1 82.5,645.2 C77.8,644.3 75.3,642.7 72.0,641.0 C68.7,639.3 66.2,637.3 62.5,635.0 C58.8,632.8 54.2,630.0 50.0,627.3 C45.8,624.6 41.2,621.6 37.5,618.8 C33.8,616.0 30.9,613.2 28.0,610.3 C25.1,607.4 22.3,604.5 20.0,601.3 C17.7,598.0 15.7,594.1 14.0,590.8 C12.3,587.5 11.1,584.3 10.0,581.3 C8.9,578.3 8.0,575.7 7.2,572.8 C6.4,569.9 5.8,567.5 5.2,563.8 C4.7,560.1 4.2,555.0 3.9,550.8 C3.6,546.6 3.4,543.0 3.3,538.8 C3.2,534.6 3.2,530.4 3.2,525.8 C3.2,521.2 3.2,513.8 3.2,511.4Z" fill="none" stroke="#040404" stroke-width="4.5" stroke-linecap="round" stroke-linejoin="round" />
<path d="M6.5,455.0 C6.1,457.5 5.0,464.2 4.2,470.0 C3.4,475.8 2.1,483.1 1.6,490.0 C1.1,496.9 1.2,504.3 1.2,511.4 C1.2,518.5 1.1,525.9 1.6,532.8 C2.1,539.7 3.4,547.0 4.2,552.8 C5.0,558.6 6.1,571.1 6.5,567.8 C6.9,564.5 6.6,542.2 6.6,532.8 C6.6,523.4 6.7,518.5 6.7,511.4 C6.7,504.3 6.6,493.6 6.6,490.0Z" fill="#040404" stroke="#040404" stroke-width="0.5" stroke-linecap="round" stroke-linejoin="round" />
<path d="M88.0,376.8 L234.0,376.8" fill="none" stroke="#040404" stroke-width="5.2" stroke-linecap="round" stroke-linejoin="round" />
<path d="M88.0,646.0 L234.0,646.0" fill="none" stroke="#040404" stroke-width="5.2" stroke-linecap="round" stroke-linejoin="round" />
<path d="M264.0,375.5 L585.0,375.6" fill="none" stroke="#040404" stroke-width="5.1" stroke-linecap="round" stroke-linejoin="round" />
<path d="M264.0,647.3 L585.0,647.2" fill="none" stroke="#040404" stroke-width="5.1" stroke-linecap="round" stroke-linejoin="round" />
<path d="M236.0,377.5 C236.9,376.2 239.5,372.4 241.5,370.0 C243.5,367.6 245.6,365.2 248.0,363.2 C250.4,361.2 253.7,359.0 256.2,357.9 C258.7,356.8 261.1,356.5 263.0,356.6 C264.9,356.7 266.5,357.6 267.5,358.5 C268.5,359.4 269.2,360.6 269.2,361.8 C269.2,363.1 268.5,364.2 267.7,366.0 C266.9,367.8 265.2,370.8 264.5,372.3 C263.8,373.9 263.4,374.8 263.2,375.3 L260.9,376.0 L258.5,381.5 L255.1,387.0 L237.5,387.0 L235.2,384.8 L234.6,379.5 Z" fill="#eeeeec" stroke="none"/>
<path d="M236.0,377.5 C236.9,376.2 239.5,372.4 241.5,370.0 C243.5,367.6 245.6,365.2 248.0,363.2 C250.4,361.2 253.7,359.0 256.2,357.9 C258.7,356.8 261.1,356.5 263.0,356.6 C264.9,356.7 266.5,357.6 267.5,358.5 C268.5,359.4 269.2,360.6 269.2,361.8 C269.2,363.1 268.5,364.2 267.7,366.0 C266.9,367.8 265.2,370.8 264.5,372.3 C263.8,373.9 263.4,374.8 263.2,375.3" fill="none" stroke="#040404" stroke-width="3.5" stroke-linecap="round" stroke-linejoin="round" />
<path d="M234.6,379.5 L235.2,384.8" fill="none" stroke="#040404" stroke-width="1.4" stroke-linecap="round" stroke-linejoin="round" />
<path d="M235.2,384.8 C235.6,385.2 234.2,386.6 237.5,387.0 C240.8,387.4 252.2,387.0 255.1,387.0" fill="none" stroke="#040404" stroke-width="1.4" stroke-linecap="round" stroke-linejoin="round" />
<path d="M255.1,387.0 L258.5,381.5 L260.9,376.0" fill="none" stroke="#040404" stroke-width="1.4" stroke-linecap="round" stroke-linejoin="round" />
<path d="M207.0,379.6 C207.5,380.5 209.3,382.8 210.0,384.8 C210.7,386.9 210.6,390.1 211.1,391.9 C211.6,393.7 212.6,394.8 212.9,395.4" fill="none" stroke="#040404" stroke-width="1.4" stroke-linecap="round" stroke-linejoin="round" />
<path d="M219.9,393.0 C221.1,392.2 225.1,390.1 227.0,388.4 C228.9,386.6 230.3,384.1 231.6,382.5 C232.9,380.9 234.1,379.6 234.6,379.0" fill="none" stroke="#040404" stroke-width="1.4" stroke-linecap="round" stroke-linejoin="round" />
<path d="M245.7,387.2 L243.9,393.0" fill="none" stroke="#040404" stroke-width="1.4" stroke-linecap="round" stroke-linejoin="round" />
<path d="M236.0,645.3 C236.9,646.5 239.5,650.4 241.5,652.8 C243.5,655.2 245.6,657.6 248.0,659.6 C250.4,661.6 253.7,663.8 256.2,664.9 C258.7,666.0 261.1,666.3 263.0,666.2 C264.9,666.1 266.5,665.2 267.5,664.3 C268.5,663.4 269.2,662.2 269.2,661.0 C269.2,659.8 268.5,658.5 267.7,656.8 C266.9,655.0 265.2,652.0 264.5,650.5 C263.8,649.0 263.4,648.0 263.2,647.5 L260.9,646.8 L258.5,641.3 L255.1,635.8 L237.5,635.8 L235.2,638.0 L234.6,643.3 Z" fill="#eeeeec" stroke="none"/>
<path d="M236.0,645.3 C236.9,646.5 239.5,650.4 241.5,652.8 C243.5,655.2 245.6,657.6 248.0,659.6 C250.4,661.6 253.7,663.8 256.2,664.9 C258.7,666.0 261.1,666.3 263.0,666.2 C264.9,666.1 266.5,665.2 267.5,664.3 C268.5,663.4 269.2,662.2 269.2,661.0 C269.2,659.8 268.5,658.5 267.7,656.8 C266.9,655.0 265.2,652.0 264.5,650.5 C263.8,649.0 263.4,648.0 263.2,647.5" fill="none" stroke="#040404" stroke-width="3.5" stroke-linecap="round" stroke-linejoin="round" />
<path d="M234.6,643.3 L235.2,638.0" fill="none" stroke="#040404" stroke-width="1.4" stroke-linecap="round" stroke-linejoin="round" />
<path d="M235.2,638.0 C235.6,637.6 234.2,636.2 237.5,635.8 C240.8,635.4 252.2,635.8 255.1,635.8" fill="none" stroke="#040404" stroke-width="1.4" stroke-linecap="round" stroke-linejoin="round" />
<path d="M255.1,635.8 L258.5,641.3 L260.9,646.8" fill="none" stroke="#040404" stroke-width="1.4" stroke-linecap="round" stroke-linejoin="round" />
<path d="M207.0,643.2 C207.5,642.3 209.3,640.0 210.0,638.0 C210.7,636.0 210.6,632.7 211.1,630.9 C211.6,629.1 212.6,628.0 212.9,627.4" fill="none" stroke="#040404" stroke-width="1.4" stroke-linecap="round" stroke-linejoin="round" />
<path d="M219.9,629.8 C221.1,630.6 225.1,632.6 227.0,634.4 C228.9,636.1 230.3,638.7 231.6,640.3 C232.9,641.9 234.1,643.2 234.6,643.8" fill="none" stroke="#040404" stroke-width="1.4" stroke-linecap="round" stroke-linejoin="round" />
<path d="M245.7,635.6 L243.9,629.8" fill="none" stroke="#040404" stroke-width="1.4" stroke-linecap="round" stroke-linejoin="round" />
<path d="M260.8,530.0 C260.8,531.4 262.1,535.8 260.8,538.3 C259.6,540.8 255.4,543.0 253.3,545.0 C251.2,547.0 248.4,548.3 248.3,550.0 C248.2,551.7 251.8,550.8 252.5,555.0 C253.2,559.2 253.2,570.8 252.5,575.0 C251.8,579.2 247.9,578.0 248.3,580.0 C248.7,582.0 253.5,584.2 255.0,586.7 C256.5,589.2 257.5,591.4 257.5,595.0 C257.5,598.6 255.4,606.1 255.0,608.3" fill="none" stroke="#040404" stroke-width="1.4" stroke-linecap="round" stroke-linejoin="round" />
<path d="M260.8,530.0 L286.7,525.8 L311.7,523.3" fill="none" stroke="#040404" stroke-width="1.4" stroke-linecap="round" stroke-linejoin="round" />
<path d="M252.5,555.0 L263.3,551.7" fill="none" stroke="#040404" stroke-width="1.4" stroke-linecap="round" stroke-linejoin="round" />
<path d="M252.5,575.0 L263.3,578.3" fill="none" stroke="#040404" stroke-width="1.4" stroke-linecap="round" stroke-linejoin="round" />
<ellipse cx="278.4" cy="565.8" rx="15.6" ry="32.6" fill="#040404" transform="rotate(-3 278.4 565.8)"/>
<path d="M276.8,541 L284.5,548.6 L276,549 Z" fill="#e9e9e7"/>
<path d="M277,591 L284.5,585.6 L276.2,585.8 Z" fill="#e9e9e7"/>
<path d="M271.5,553.8 L274.3,553.8 L274.3,578.5" fill="none" stroke="#dcdcda" stroke-width="0.9"/>
<path d="M267,556 Q265.5,548 270,542.5" fill="none" stroke="#cfcfcd" stroke-width="0.8"/>
<path d="M288.6,562 Q289.6,571 288.2,580" fill="none" stroke="#cfcfcd" stroke-width="0.8"/>
<path d="M280,594.5 Q284,592 286,588" fill="none" stroke="#cfcfcd" stroke-width="0.8"/>
<path d="M292.5,578.3 L295.0,590.0 L299.2,600.0" fill="none" stroke="#040404" stroke-width="1.4" stroke-linecap="round" stroke-linejoin="round" />
</g>
<g id="dims" opacity="0.995">
<line x1="519.0" y1="2.4" x2="724.8" y2="2.4" stroke="#040404" stroke-width="1.45"/>
<line x1="721.0" y1="16.0" x2="721.0" y2="72.5" stroke="#040404" stroke-width="1.45"/>
<line x1="721.0" y1="102.5" x2="721.0" y2="206.0" stroke="#040404" stroke-width="1.45"/>
<polygon points="721.0,6.8 724.6,17.3 717.4,17.3" fill="#040404"/>
<polygon points="721.0,216.6 717.4,206.1 724.6,206.1" fill="#040404"/>
<text x="702.3" y="93.3" font-size="16.2" textLength="38.7" lengthAdjust="spacingAndGlyphs">1447</text>
<line x1="654.8" y1="99.5" x2="691.0" y2="99.5" stroke="#040404" stroke-width="1.45"/>
<line x1="687.8" y1="114.0" x2="687.8" y2="144.5" stroke="#040404" stroke-width="1.45"/>
<line x1="687.8" y1="170.8" x2="687.8" y2="206.0" stroke="#040404" stroke-width="1.45"/>
<polygon points="687.8,104.3 691.4,114.8 684.2,114.8" fill="#040404"/>
<polygon points="687.8,216.6 684.2,206.1 691.4,206.1" fill="#040404"/>
<text x="672.3" y="162.6" font-size="16.2" textLength="28.7" lengthAdjust="spacingAndGlyphs">807</text>
<line x1="2.3" y1="204.0" x2="2.3" y2="329.5" stroke="#040404" stroke-width="1.45"/>
<line x1="648.8" y1="179.0" x2="648.8" y2="330.8" stroke="#040404" stroke-width="1.45"/>
<line x1="133.9" y1="235.0" x2="133.9" y2="284.5" stroke="#040404" stroke-width="1.45"/>
<line x1="534.6" y1="237.5" x2="534.6" y2="286.3" stroke="#040404" stroke-width="1.45"/>
<line x1="148.0" y1="278.2" x2="314.0" y2="278.2" stroke="#040404" stroke-width="1.45"/>
<line x1="365.0" y1="278.2" x2="521.0" y2="278.2" stroke="#040404" stroke-width="1.45"/>
<polygon points="137.3,278.2 149.8,275.0 149.8,281.4" fill="#040404"/>
<polygon points="531.6,278.2 519.1,281.4 519.1,275.0" fill="#040404"/>
<text x="319.0" y="282.4" font-size="16.2" textLength="41.0" lengthAdjust="spacingAndGlyphs">2640</text>
<line x1="18.0" y1="324.0" x2="295.0" y2="324.0" stroke="#040404" stroke-width="1.45"/>
<line x1="346.5" y1="324.0" x2="634.0" y2="324.0" stroke="#040404" stroke-width="1.45"/>
<polygon points="7.3,324.0 19.8,320.8 19.8,327.2" fill="#040404"/>
<polygon points="644.2,324.0 631.7,327.2 631.7,320.8" fill="#040404"/>
<text x="301.3" y="329.4" font-size="16.2" textLength="40.7" lengthAdjust="spacingAndGlyphs">4252</text>
<line x1="360.6" y1="21.0" x2="357.4" y2="32.5" stroke="#040404" stroke-width="1.45"/>
<line x1="351.7" y1="53.3" x2="331.0" y2="129.0" stroke="#040404" stroke-width="1.45"/>
<polygon points="363.4,11.0 363.7,23.0 357.0,21.1" fill="#040404"/>
<polygon points="328.4,138.0 328.0,126.5 334.7,128.3" fill="#040404"/>
<text x="338.3" y="48.0" font-size="16.2" textLength="31.7" lengthAdjust="spacingAndGlyphs">988</text>
<line x1="470.6" y1="25.0" x2="468.2" y2="34.0" stroke="#040404" stroke-width="1.45"/>
<line x1="462.0" y1="56.7" x2="445.0" y2="121.0" stroke="#040404" stroke-width="1.45"/>
<polygon points="473.4,15.0 473.8,27.0 467.1,25.2" fill="#040404"/>
<polygon points="442.1,130.8 441.5,119.3 448.3,121.1" fill="#040404"/>
<text x="448.8" y="50.0" font-size="16.2" textLength="32.0" lengthAdjust="spacingAndGlyphs">959</text>
<line x1="223.3" y1="174.6" x2="250.0" y2="259.5" stroke="#040404" stroke-width="1.45"/>
<line x1="346.7" y1="153.3" x2="366.3" y2="218.3" stroke="#040404" stroke-width="1.45"/>
<line x1="262.0" y1="250.8" x2="283.3" y2="243.5" stroke="#040404" stroke-width="1.45"/>
<line x1="329.5" y1="227.9" x2="352.5" y2="220.3" stroke="#040404" stroke-width="1.45"/>
<polygon points="251.2,254.6 263.3,246.6 265.7,253.7" fill="#040404"/>
<polygon points="363.4,216.7 351.3,224.7 348.9,217.6" fill="#040404"/>
<text x="287.5" y="239.6" font-size="16.2" textLength="40.0" lengthAdjust="spacingAndGlyphs" transform="rotate(-18.5 307.5 234.0)">1057</text>
<line x1="395.8" y1="171.7" x2="419.0" y2="249.5" stroke="#040404" stroke-width="1.45"/>
<line x1="473.3" y1="140.0" x2="478.0" y2="155.5" stroke="#040404" stroke-width="1.45"/>
<line x1="478.0" y1="155.5" x2="498.3" y2="222.5" stroke="#f3f3f1" stroke-width="1.1"/>
<polygon points="421.5,244.6 434.4,236.0 436.9,243.2" fill="#040404"/>
<polygon points="490.9,220.0 478.0,228.6 475.5,221.4" fill="#040404"/>
<text x="441.0" y="238.9" font-size="16.2" textLength="31.0" lengthAdjust="spacingAndGlyphs" transform="rotate(-18.5 456.5 233.3)">869</text>
<line x1="288.3" y1="358.2" x2="755.6" y2="358.2" stroke="#040404" stroke-width="1.45"/>
<line x1="288.6" y1="666.8" x2="755.7" y2="666.8" stroke="#040404" stroke-width="1.45"/>
<line x1="751.3" y1="372.0" x2="751.3" y2="500.0" stroke="#040404" stroke-width="1.45"/>
<line x1="751.3" y1="524.0" x2="751.3" y2="653.0" stroke="#040404" stroke-width="1.45"/>
<polygon points="751.3,361.3 754.9,373.8 747.7,373.8" fill="#040404"/>
<polygon points="751.5,664.0 747.9,651.5 755.1,651.5" fill="#040404"/>
<text x="729.6" y="516.5" font-size="16.2" textLength="39.8" lengthAdjust="spacingAndGlyphs">2039</text>
<line x1="644.8" y1="377.0" x2="696.8" y2="377.0" stroke="#040404" stroke-width="1.45"/>
<line x1="644.5" y1="645.4" x2="696.5" y2="645.4" stroke="#040404" stroke-width="1.45"/>
<line x1="691.6" y1="391.0" x2="691.6" y2="500.0" stroke="#040404" stroke-width="1.45"/>
<line x1="691.6" y1="524.8" x2="691.6" y2="631.0" stroke="#040404" stroke-width="1.45"/>
<polygon points="691.6,379.4 695.2,391.9 688.0,391.9" fill="#040404"/>
<polygon points="691.7,641.8 688.1,629.3 695.3,629.3" fill="#040404"/>
<text x="672.6" y="516.5" font-size="16.2" textLength="39.4" lengthAdjust="spacingAndGlyphs">1782</text>
<line x1="126.7" y1="410.0" x2="126.7" y2="498.5" stroke="#040404" stroke-width="1.45"/>
<line x1="126.7" y1="525.3" x2="126.7" y2="612.0" stroke="#040404" stroke-width="1.45"/>
<polygon points="126.7,396.0 131.3,411.5 122.1,411.5" fill="#040404" stroke="#f3f3f1" stroke-width="1.2" stroke-linejoin="miter"/>
<polygon points="126.7,626.0 122.1,610.5 131.3,610.5" fill="#040404" stroke="#f3f3f1" stroke-width="1.2" stroke-linejoin="miter"/>
<text x="107.4" y="518.3" font-size="16.2" textLength="38.9" lengthAdjust="spacingAndGlyphs">1535</text>
<line x1="340.0" y1="436.0" x2="340.0" y2="498.5" stroke="#040404" stroke-width="1.45"/>
<line x1="340.0" y1="524.2" x2="340.0" y2="588.0" stroke="#040404" stroke-width="1.45"/>
<polygon points="340.0,421.8 344.6,437.3 335.4,437.3" fill="#040404" stroke="#eeeeec" stroke-width="2.2" stroke-linejoin="miter"/>
<polygon points="340.0,601.6 335.4,586.1 344.6,586.1" fill="#040404" stroke="#eeeeec" stroke-width="2.2" stroke-linejoin="miter"/>
<polygon points="340.0,421.8 344.6,437.3 335.4,437.3" fill="#040404"/>
<polygon points="340.0,601.6 335.4,586.1 344.6,586.1" fill="#040404"/>
<text x="318.6" y="518.3" font-size="16.2" textLength="42.1" lengthAdjust="spacingAndGlyphs">1390</text>
<line x1="462.3" y1="443.0" x2="462.3" y2="498.5" stroke="#040404" stroke-width="1.45"/>
<line x1="462.3" y1="524.2" x2="462.3" y2="582.0" stroke="#040404" stroke-width="1.45"/>
<polygon points="462.3,429.0 466.9,444.5 457.7,444.5" fill="#040404" stroke="#eeeeec" stroke-width="2.2" stroke-linejoin="miter"/>
<polygon points="462.4,596.0 457.8,580.5 467.0,580.5" fill="#040404" stroke="#eeeeec" stroke-width="2.2" stroke-linejoin="miter"/>
<polygon points="462.3,429.0 466.9,444.5 457.7,444.5" fill="#040404"/>
<polygon points="462.4,596.0 457.8,580.5 467.0,580.5" fill="#040404"/>
<text x="444.2" y="518.1" font-size="16.2" textLength="39.4" lengthAdjust="spacingAndGlyphs">1303</text>
<line x1="572.0" y1="414.0" x2="572.0" y2="498.5" stroke="#040404" stroke-width="1.45"/>
<line x1="572.0" y1="524.2" x2="572.0" y2="610.0" stroke="#040404" stroke-width="1.45"/>
<polygon points="572.0,399.0 576.9,416.0 567.1,416.0" fill="#040404" stroke="#f3f3f1" stroke-width="1.2" stroke-linejoin="miter"/>
<polygon points="572.0,624.0 567.1,607.0 576.9,607.0" fill="#040404" stroke="#f3f3f1" stroke-width="1.2" stroke-linejoin="miter"/>
<text x="552.6" y="518.1" font-size="16.2" textLength="37.6" lengthAdjust="spacingAndGlyphs">1531</text>
</g>
</svg>
</body></html>
